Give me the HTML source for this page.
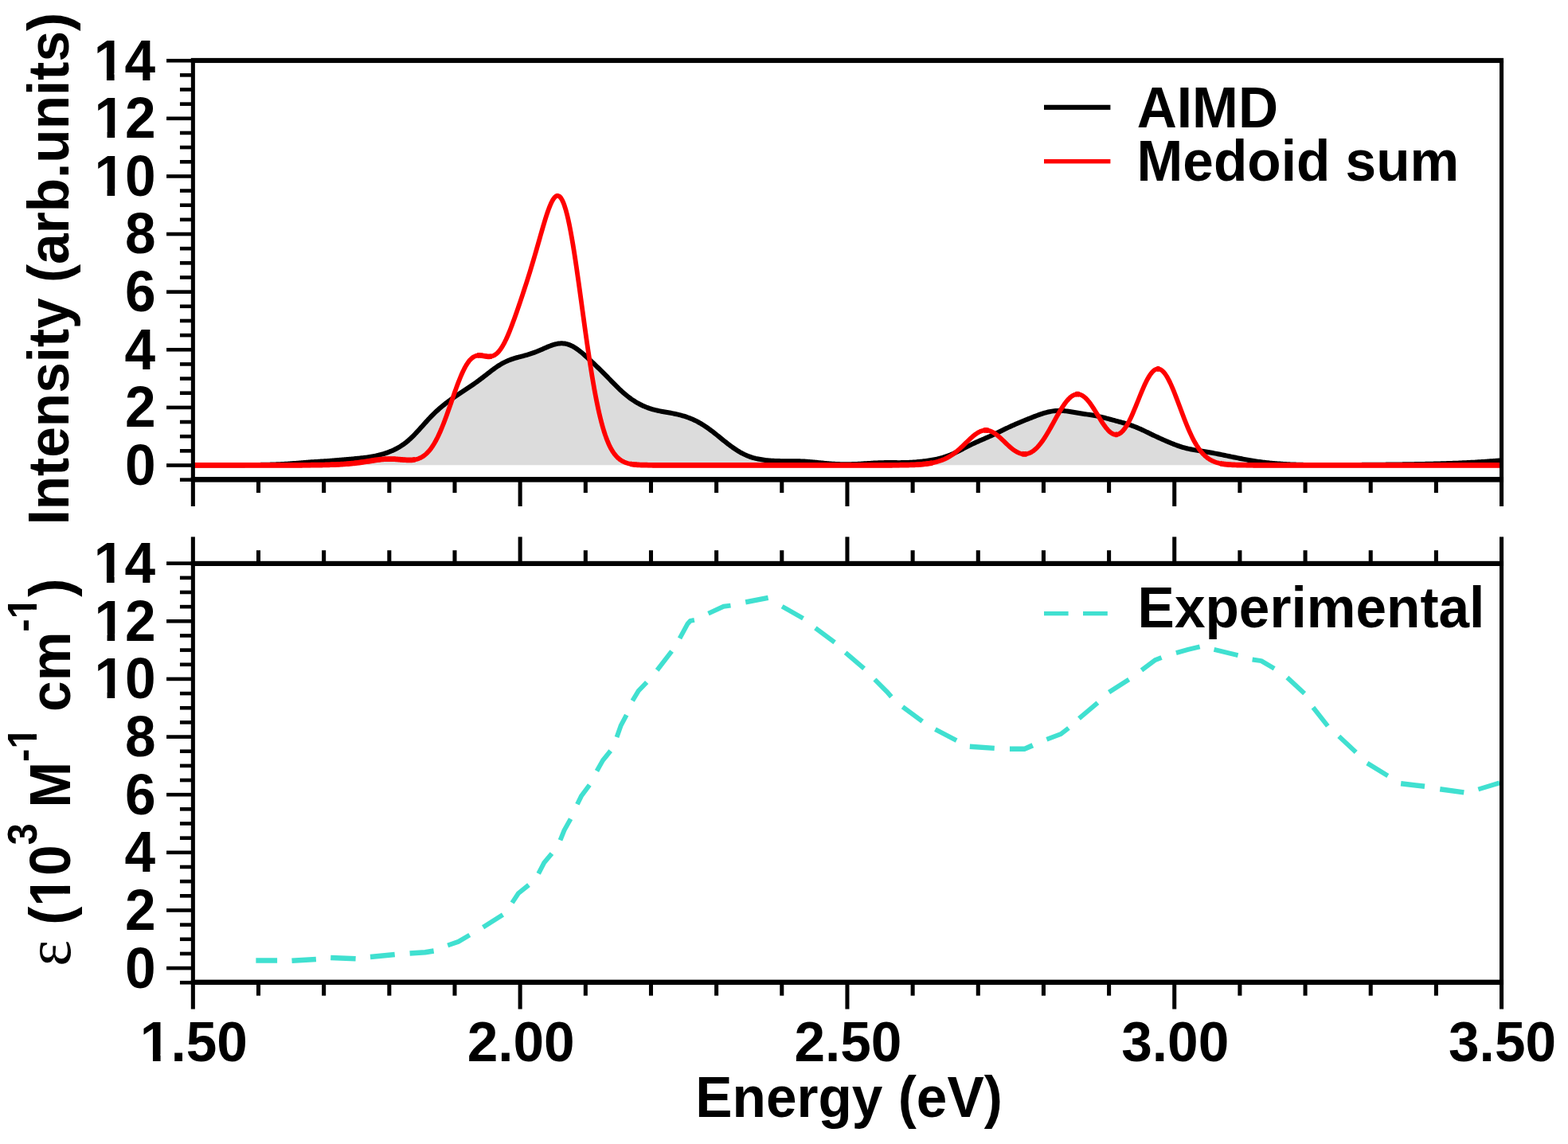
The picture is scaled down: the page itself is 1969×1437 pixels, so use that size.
<!DOCTYPE html>
<html lang="en"><head><meta charset="utf-8"><title>Absorption spectra</title>
<style>html,body{margin:0;padding:0;background:#fff;overflow:hidden}svg{display:block}text{white-space:pre}</style></head>
<body>
<svg xmlns="http://www.w3.org/2000/svg" width="1969" height="1437" viewBox="0 0 1969 1437" font-family='"Liberation Sans", sans-serif' font-weight="bold" fill="#000">
<rect width="1969" height="1437" fill="#fff"/>
<defs><clipPath id="ct"><rect x="242.35" y="76.2" width="1643.2" height="526.45"/></clipPath><clipPath id="cb"><rect x="242.35" y="707.65" width="1643.2" height="526.61"/></clipPath></defs>
<g clip-path="url(#ct)" fill="none" stroke-linejoin="round">
<path d="M242.3,584.30L243.8,584.30L245.3,584.30L246.8,584.30L248.3,584.30L249.8,584.30L251.3,584.30L252.8,584.30L254.3,584.30L255.8,584.30L257.4,584.30L258.9,584.30L260.4,584.30L261.9,584.30L263.4,584.30L264.9,584.30L266.4,584.29L267.9,584.29L269.4,584.29L270.9,584.29L272.4,584.29L273.9,584.29L275.4,584.29L276.9,584.28L278.4,584.28L279.9,584.28L281.4,584.27L282.9,584.27L284.4,584.27L285.9,584.26L287.4,584.26L288.9,584.25L290.4,584.25L291.9,584.24L293.4,584.23L294.9,584.22L296.4,584.21L297.9,584.20L299.4,584.19L300.9,584.18L302.4,584.17L303.9,584.16L305.4,584.15L306.9,584.13L308.4,584.12L309.9,584.11L311.4,584.09L312.9,584.07L314.4,584.06L315.9,584.04L317.4,584.02L318.9,584.00L320.4,583.98L321.9,583.96L323.4,583.94L324.9,583.92L326.4,583.90L327.9,583.87L329.4,583.85L330.9,583.82L332.4,583.79L333.9,583.76L335.4,583.73L336.9,583.69L338.4,583.65L339.9,583.61L341.4,583.57L342.9,583.52L344.4,583.47L345.9,583.42L347.4,583.36L348.9,583.30L350.4,583.23L351.9,583.16L353.4,583.09L354.9,583.01L356.4,582.92L357.9,582.84L359.4,582.74L360.9,582.65L362.4,582.54L363.9,582.44L365.4,582.33L366.9,582.22L368.4,582.10L369.9,581.99L371.4,581.87L372.9,581.75L374.4,581.63L375.9,581.51L377.4,581.39L378.9,581.27L380.4,581.15L381.9,581.03L383.4,580.91L384.9,580.80L386.4,580.69L387.9,580.58L389.4,580.47L390.9,580.36L392.4,580.26L393.9,580.16L395.4,580.06L396.9,579.97L398.4,579.87L399.9,579.78L401.4,579.69L402.9,579.59L404.4,579.50L405.9,579.41L407.4,579.31L408.9,579.21L410.4,579.12L411.9,579.02L413.4,578.91L414.9,578.81L416.4,578.70L417.9,578.58L419.4,578.47L420.9,578.35L422.4,578.23L423.9,578.10L425.4,577.98L426.9,577.85L428.4,577.72L429.9,577.58L431.4,577.45L432.9,577.32L434.4,577.18L435.9,577.05L437.4,576.91L438.9,576.77L440.4,576.64L441.9,576.50L443.4,576.37L444.9,576.23L446.4,576.09L447.9,575.95L449.4,575.81L450.9,575.66L452.4,575.51L453.9,575.35L455.4,575.19L456.9,575.02L458.4,574.83L459.9,574.64L461.4,574.44L462.9,574.22L464.4,573.99L465.9,573.74L467.4,573.48L468.9,573.20L470.4,572.90L471.9,572.59L473.4,572.25L474.9,571.90L476.4,571.53L477.9,571.13L479.4,570.72L480.9,570.28L482.4,569.82L483.9,569.34L485.4,568.84L486.9,568.31L488.4,567.75L489.9,567.17L491.4,566.56L492.9,565.91L494.4,565.24L495.9,564.52L497.4,563.77L498.9,562.98L500.4,562.14L501.9,561.26L503.4,560.32L504.9,559.34L506.4,558.31L507.9,557.22L509.4,556.07L510.9,554.87L512.4,553.62L513.9,552.31L515.4,550.94L516.9,549.53L518.4,548.07L519.9,546.56L521.4,545.01L522.9,543.43L524.4,541.81L525.9,540.17L527.4,538.51L528.9,536.83L530.4,535.15L531.9,533.47L533.4,531.79L534.9,530.13L536.4,528.47L537.9,526.84L539.4,525.24L540.9,523.66L542.4,522.11L543.9,520.60L545.4,519.12L546.9,517.68L548.4,516.28L549.9,514.91L551.4,513.57L552.9,512.27L554.4,511.00L555.9,509.76L557.4,508.55L558.9,507.37L560.4,506.21L561.9,505.07L563.4,503.95L564.9,502.85L566.4,501.77L567.9,500.70L569.4,499.64L570.9,498.60L572.4,497.56L573.9,496.54L575.4,495.52L576.9,494.52L578.4,493.52L579.9,492.52L581.4,491.53L582.9,490.53L584.4,489.54L585.9,488.55L587.4,487.55L588.9,486.55L590.4,485.54L591.9,484.52L593.4,483.49L594.9,482.45L596.4,481.40L597.9,480.33L599.4,479.24L600.9,478.14L602.4,477.03L603.9,475.90L605.4,474.75L606.9,473.60L608.4,472.44L609.9,471.27L611.4,470.10L612.9,468.93L614.4,467.76L615.9,466.61L617.4,465.47L618.9,464.34L620.4,463.24L621.9,462.16L623.4,461.11L624.9,460.10L626.4,459.12L627.9,458.18L629.4,457.28L630.9,456.42L632.4,455.60L633.9,454.83L635.4,454.11L636.9,453.42L638.4,452.78L639.9,452.18L641.4,451.61L642.9,451.08L644.4,450.59L645.9,450.12L647.4,449.67L648.9,449.25L650.4,448.84L651.9,448.44L653.4,448.05L654.9,447.67L656.4,447.28L657.9,446.89L659.4,446.48L660.9,446.07L662.4,445.63L663.9,445.18L665.4,444.71L666.9,444.22L668.4,443.71L669.9,443.17L671.4,442.61L672.9,442.03L674.4,441.43L675.9,440.81L677.4,440.18L678.9,439.53L680.4,438.88L681.9,438.22L683.4,437.55L684.9,436.90L686.4,436.25L687.9,435.62L689.4,435.01L690.9,434.43L692.4,433.88L693.9,433.37L695.4,432.90L696.9,432.48L698.4,432.12L699.9,431.82L701.4,431.59L702.9,431.42L704.4,431.34L705.9,431.34L707.4,431.41L708.9,431.58L710.4,431.83L711.9,432.18L713.4,432.61L714.9,433.13L716.4,433.74L717.9,434.43L719.4,435.20L720.9,436.06L722.4,436.98L723.9,437.98L725.4,439.03L726.9,440.15L728.4,441.31L729.9,442.52L731.4,443.77L732.9,445.06L734.4,446.37L735.9,447.70L737.4,449.06L738.9,450.43L740.4,451.81L741.9,453.20L743.4,454.61L744.9,456.02L746.4,457.44L747.9,458.87L749.4,460.30L750.9,461.75L752.4,463.21L753.9,464.67L755.4,466.15L756.9,467.64L758.4,469.14L759.9,470.65L761.4,472.17L762.9,473.70L764.4,475.24L765.9,476.78L767.4,478.32L768.9,479.86L770.4,481.39L771.9,482.91L773.4,484.42L774.9,485.91L776.4,487.38L777.9,488.83L779.4,490.24L780.9,491.63L782.4,492.98L783.9,494.29L785.4,495.57L786.9,496.81L788.4,498.00L789.9,499.16L791.4,500.27L792.9,501.35L794.4,502.38L795.9,503.37L797.4,504.33L798.9,505.24L800.4,506.12L801.9,506.95L803.4,507.76L804.9,508.52L806.4,509.25L807.9,509.94L809.4,510.60L810.9,511.23L812.4,511.82L813.9,512.38L815.4,512.91L816.9,513.40L818.4,513.86L819.9,514.30L821.4,514.71L822.9,515.09L824.4,515.45L825.9,515.79L827.4,516.10L828.9,516.40L830.4,516.69L831.9,516.97L833.4,517.24L834.9,517.50L836.4,517.76L837.9,518.02L839.4,518.28L840.9,518.54L842.4,518.81L843.9,519.10L845.4,519.39L846.9,519.69L848.4,520.01L849.9,520.34L851.4,520.69L852.9,521.06L854.4,521.44L855.9,521.85L857.4,522.27L858.9,522.72L860.4,523.19L861.9,523.69L863.4,524.21L864.9,524.76L866.4,525.33L867.9,525.94L869.4,526.57L870.9,527.24L872.4,527.93L873.9,528.66L875.4,529.43L876.9,530.23L878.4,531.06L879.9,531.92L881.4,532.82L882.9,533.75L884.4,534.71L885.9,535.71L887.4,536.73L888.9,537.78L890.4,538.86L891.9,539.97L893.4,541.09L894.9,542.24L896.4,543.40L897.9,544.58L899.4,545.78L900.9,546.98L902.4,548.19L903.9,549.41L905.4,550.62L906.9,551.84L908.4,553.05L909.9,554.25L911.4,555.45L912.9,556.63L914.4,557.80L915.9,558.94L917.4,560.07L918.9,561.17L920.4,562.25L921.9,563.30L923.4,564.31L924.9,565.29L926.4,566.24L927.9,567.15L929.4,568.03L930.9,568.86L932.4,569.66L933.9,570.41L935.4,571.13L936.9,571.80L938.4,572.43L939.9,573.03L941.4,573.58L942.9,574.10L944.4,574.58L945.9,575.03L947.4,575.44L948.9,575.83L950.4,576.18L951.9,576.50L953.4,576.80L954.9,577.07L956.4,577.32L957.9,577.55L959.4,577.75L960.9,577.94L962.4,578.11L963.9,578.27L965.4,578.41L966.9,578.53L968.4,578.64L969.9,578.74L971.4,578.83L972.9,578.91L974.4,578.97L975.9,579.03L977.4,579.07L978.9,579.11L980.4,579.14L981.9,579.16L983.4,579.18L984.9,579.19L986.4,579.20L987.9,579.21L989.4,579.21L990.9,579.21L992.4,579.21L993.9,579.22L995.4,579.22L996.9,579.23L998.4,579.25L999.9,579.27L1001.4,579.29L1002.9,579.33L1004.4,579.37L1005.9,579.42L1007.4,579.48L1008.9,579.55L1010.4,579.62L1011.9,579.71L1013.4,579.81L1014.9,579.91L1016.4,580.03L1017.9,580.15L1019.4,580.28L1020.9,580.41L1022.4,580.55L1023.9,580.69L1025.3,580.84L1026.8,580.99L1028.3,581.14L1029.8,581.29L1031.3,581.44L1032.8,581.59L1034.3,581.74L1035.8,581.88L1037.3,582.02L1038.8,582.15L1040.3,582.28L1041.8,582.40L1043.3,582.51L1044.8,582.62L1046.3,582.72L1047.8,582.81L1049.3,582.89L1050.8,582.97L1052.3,583.03L1053.8,583.09L1055.3,583.14L1056.8,583.18L1058.3,583.20L1059.8,583.22L1061.3,583.24L1062.8,583.24L1064.3,583.23L1065.8,583.22L1067.3,583.19L1068.8,583.16L1070.3,583.12L1071.8,583.07L1073.3,583.02L1074.8,582.95L1076.3,582.88L1077.8,582.81L1079.3,582.73L1080.8,582.64L1082.3,582.55L1083.8,582.46L1085.3,582.36L1086.8,582.26L1088.3,582.17L1089.8,582.07L1091.3,581.97L1092.8,581.87L1094.3,581.78L1095.8,581.69L1097.3,581.60L1098.8,581.52L1100.3,581.45L1101.8,581.38L1103.3,581.32L1104.8,581.26L1106.3,581.21L1107.8,581.17L1109.3,581.14L1110.8,581.11L1112.3,581.09L1113.8,581.08L1115.3,581.08L1116.8,581.07L1118.3,581.08L1119.8,581.08L1121.3,581.09L1122.8,581.10L1124.3,581.11L1125.8,581.12L1127.3,581.13L1128.8,581.13L1130.3,581.13L1131.8,581.12L1133.3,581.11L1134.8,581.09L1136.3,581.06L1137.8,581.03L1139.3,580.98L1140.8,580.92L1142.3,580.86L1143.8,580.78L1145.3,580.70L1146.8,580.60L1148.3,580.49L1149.8,580.38L1151.3,580.25L1152.8,580.11L1154.3,579.97L1155.8,579.81L1157.3,579.65L1158.8,579.48L1160.3,579.30L1161.8,579.11L1163.3,578.91L1164.8,578.70L1166.3,578.48L1167.8,578.25L1169.3,578.01L1170.8,577.75L1172.3,577.49L1173.8,577.20L1175.3,576.90L1176.8,576.58L1178.3,576.23L1179.8,575.87L1181.3,575.48L1182.8,575.07L1184.3,574.63L1185.8,574.17L1187.3,573.68L1188.8,573.16L1190.3,572.61L1191.8,572.03L1193.3,571.42L1194.8,570.79L1196.3,570.13L1197.8,569.45L1199.3,568.75L1200.8,568.03L1202.3,567.29L1203.8,566.53L1205.3,565.77L1206.8,565.00L1208.3,564.22L1209.8,563.44L1211.3,562.66L1212.8,561.88L1214.3,561.12L1215.8,560.35L1217.3,559.60L1218.8,558.86L1220.3,558.14L1221.8,557.42L1223.3,556.72L1224.8,556.03L1226.3,555.35L1227.8,554.68L1229.3,554.02L1230.8,553.36L1232.3,552.71L1233.8,552.07L1235.3,551.42L1236.8,550.77L1238.3,550.12L1239.8,549.47L1241.3,548.80L1242.8,548.13L1244.3,547.45L1245.8,546.77L1247.3,546.07L1248.8,545.36L1250.3,544.65L1251.8,543.93L1253.3,543.20L1254.8,542.47L1256.3,541.73L1257.8,541.00L1259.3,540.26L1260.8,539.53L1262.3,538.80L1263.8,538.07L1265.3,537.36L1266.8,536.65L1268.3,535.95L1269.8,535.25L1271.3,534.57L1272.8,533.90L1274.3,533.24L1275.8,532.58L1277.3,531.94L1278.8,531.30L1280.3,530.67L1281.8,530.04L1283.3,529.43L1284.8,528.81L1286.3,528.20L1287.8,527.59L1289.3,526.98L1290.8,526.38L1292.3,525.78L1293.8,525.18L1295.3,524.59L1296.8,524.00L1298.3,523.41L1299.8,522.84L1301.3,522.27L1302.8,521.71L1304.3,521.16L1305.8,520.63L1307.3,520.12L1308.8,519.62L1310.3,519.15L1311.8,518.70L1313.3,518.28L1314.8,517.88L1316.3,517.52L1317.8,517.18L1319.3,516.89L1320.8,516.62L1322.3,516.40L1323.8,516.21L1325.3,516.07L1326.8,515.96L1328.3,515.89L1329.8,515.86L1331.3,515.86L1332.8,515.90L1334.3,515.98L1335.8,516.09L1337.3,516.22L1338.8,516.38L1340.3,516.57L1341.8,516.77L1343.3,516.99L1344.8,517.23L1346.3,517.47L1347.8,517.72L1349.3,517.98L1350.8,518.23L1352.3,518.49L1353.8,518.74L1355.3,518.99L1356.8,519.23L1358.3,519.47L1359.8,519.70L1361.3,519.93L1362.8,520.16L1364.3,520.39L1365.8,520.61L1367.3,520.84L1368.8,521.08L1370.3,521.32L1371.8,521.57L1373.3,521.82L1374.8,522.09L1376.3,522.38L1377.8,522.68L1379.3,522.99L1380.8,523.31L1382.3,523.65L1383.8,524.01L1385.3,524.37L1386.8,524.75L1388.3,525.14L1389.8,525.53L1391.3,525.93L1392.8,526.33L1394.3,526.74L1395.8,527.15L1397.3,527.56L1398.8,527.96L1400.3,528.37L1401.8,528.78L1403.3,529.18L1404.8,529.58L1406.3,529.99L1407.8,530.40L1409.3,530.82L1410.8,531.24L1412.3,531.67L1413.8,532.11L1415.3,532.56L1416.8,533.04L1418.3,533.52L1419.8,534.03L1421.3,534.56L1422.8,535.11L1424.3,535.68L1425.8,536.27L1427.3,536.88L1428.8,537.51L1430.3,538.16L1431.8,538.82L1433.3,539.50L1434.8,540.20L1436.3,540.90L1437.8,541.62L1439.3,542.34L1440.8,543.06L1442.3,543.78L1443.8,544.51L1445.3,545.24L1446.8,545.96L1448.3,546.68L1449.8,547.39L1451.3,548.10L1452.8,548.80L1454.3,549.49L1455.8,550.18L1457.3,550.87L1458.8,551.54L1460.3,552.21L1461.8,552.88L1463.3,553.53L1464.8,554.18L1466.3,554.82L1467.8,555.46L1469.3,556.08L1470.8,556.70L1472.3,557.30L1473.8,557.90L1475.3,558.47L1476.8,559.04L1478.3,559.58L1479.8,560.11L1481.3,560.62L1482.8,561.11L1484.3,561.58L1485.8,562.03L1487.3,562.45L1488.8,562.86L1490.3,563.24L1491.8,563.60L1493.3,563.94L1494.8,564.26L1496.3,564.56L1497.8,564.85L1499.3,565.12L1500.8,565.38L1502.3,565.63L1503.8,565.88L1505.3,566.11L1506.8,566.35L1508.3,566.58L1509.8,566.81L1511.3,567.04L1512.8,567.27L1514.3,567.51L1515.8,567.75L1517.3,568.00L1518.8,568.25L1520.3,568.51L1521.8,568.78L1523.3,569.05L1524.8,569.33L1526.3,569.62L1527.8,569.91L1529.3,570.20L1530.8,570.50L1532.3,570.80L1533.8,571.11L1535.3,571.42L1536.8,571.72L1538.3,572.03L1539.8,572.34L1541.3,572.65L1542.8,572.96L1544.3,573.27L1545.8,573.58L1547.3,573.89L1548.8,574.20L1550.3,574.50L1551.8,574.80L1553.3,575.11L1554.8,575.40L1556.3,575.70L1557.8,576.00L1559.3,576.29L1560.8,576.58L1562.3,576.86L1563.8,577.14L1565.3,577.42L1566.8,577.69L1568.3,577.96L1569.8,578.22L1571.3,578.48L1572.8,578.73L1574.3,578.97L1575.8,579.21L1577.3,579.44L1578.8,579.66L1580.3,579.88L1581.8,580.08L1583.3,580.28L1584.8,580.48L1586.3,580.66L1587.8,580.84L1589.3,581.01L1590.8,581.18L1592.3,581.34L1593.8,581.49L1595.3,581.63L1596.8,581.77L1598.3,581.91L1599.8,582.04L1601.3,582.16L1602.8,582.28L1604.3,582.39L1605.8,582.50L1607.3,582.61L1608.8,582.71L1610.3,582.81L1611.8,582.90L1613.3,582.99L1614.8,583.08L1616.3,583.16L1617.8,583.23L1619.3,583.31L1620.8,583.38L1622.3,583.44L1623.8,583.50L1625.3,583.56L1626.8,583.61L1628.3,583.66L1629.8,583.71L1631.3,583.75L1632.8,583.79L1634.3,583.83L1635.8,583.86L1637.3,583.89L1638.8,583.92L1640.3,583.94L1641.8,583.96L1643.3,583.98L1644.8,584.00L1646.3,584.01L1647.8,584.03L1649.3,584.04L1650.8,584.05L1652.3,584.05L1653.8,584.06L1655.3,584.06L1656.8,584.07L1658.3,584.07L1659.8,584.07L1661.3,584.07L1662.8,584.07L1664.3,584.07L1665.8,584.07L1667.3,584.06L1668.8,584.06L1670.3,584.06L1671.8,584.05L1673.3,584.05L1674.8,584.04L1676.3,584.04L1677.8,584.03L1679.3,584.03L1680.8,584.02L1682.3,584.02L1683.8,584.01L1685.3,584.00L1686.8,584.00L1688.3,583.99L1689.8,583.98L1691.3,583.98L1692.8,583.97L1694.3,583.96L1695.8,583.95L1697.3,583.95L1698.8,583.94L1700.3,583.93L1701.8,583.92L1703.3,583.91L1704.8,583.90L1706.3,583.89L1707.8,583.89L1709.3,583.88L1710.8,583.87L1712.3,583.86L1713.8,583.85L1715.3,583.84L1716.8,583.82L1718.3,583.81L1719.8,583.80L1721.3,583.79L1722.8,583.78L1724.3,583.77L1725.8,583.76L1727.3,583.74L1728.8,583.73L1730.3,583.72L1731.8,583.70L1733.3,583.69L1734.8,583.68L1736.3,583.66L1737.8,583.65L1739.3,583.63L1740.8,583.62L1742.3,583.60L1743.8,583.58L1745.3,583.57L1746.8,583.55L1748.3,583.53L1749.8,583.52L1751.3,583.50L1752.8,583.48L1754.3,583.46L1755.8,583.44L1757.3,583.42L1758.8,583.40L1760.3,583.38L1761.8,583.36L1763.3,583.34L1764.8,583.32L1766.3,583.29L1767.8,583.27L1769.3,583.25L1770.8,583.22L1772.3,583.20L1773.8,583.17L1775.3,583.15L1776.8,583.12L1778.3,583.09L1779.8,583.07L1781.3,583.04L1782.8,583.01L1784.3,582.98L1785.8,582.95L1787.3,582.92L1788.8,582.89L1790.3,582.85L1791.8,582.82L1793.3,582.79L1794.8,582.75L1796.3,582.72L1797.8,582.68L1799.3,582.64L1800.8,582.60L1802.3,582.56L1803.8,582.52L1805.3,582.48L1806.8,582.44L1808.3,582.40L1809.8,582.36L1811.3,582.31L1812.8,582.26L1814.3,582.22L1815.8,582.17L1817.3,582.12L1818.8,582.07L1820.3,582.02L1821.8,581.97L1823.3,581.91L1824.8,581.86L1826.3,581.80L1827.8,581.75L1829.3,581.69L1830.8,581.63L1832.3,581.57L1833.8,581.50L1835.3,581.44L1836.8,581.37L1838.3,581.31L1839.8,581.24L1841.3,581.17L1842.8,581.09L1844.3,581.02L1845.8,580.94L1847.3,580.87L1848.8,580.79L1850.3,580.71L1851.8,580.63L1853.3,580.54L1854.8,580.45L1856.3,580.37L1857.8,580.28L1859.3,580.18L1860.8,580.09L1862.3,579.99L1863.8,579.89L1865.3,579.79L1866.8,579.69L1868.3,579.58L1869.8,579.47L1871.3,579.36L1872.8,579.25L1874.3,579.13L1875.8,579.01L1877.3,578.89L1878.8,578.77L1880.3,578.64L1881.8,578.51L1883.3,578.38L1884.8,578.24L1884.85,584.3L242.35,584.3Z" fill="#dcdcdc"/>
<path d="M242.3,584.30L243.8,584.30L245.3,584.30L246.8,584.30L248.3,584.30L249.8,584.30L251.3,584.30L252.8,584.30L254.3,584.30L255.8,584.30L257.4,584.30L258.9,584.30L260.4,584.30L261.9,584.30L263.4,584.30L264.9,584.30L266.4,584.29L267.9,584.29L269.4,584.29L270.9,584.29L272.4,584.29L273.9,584.29L275.4,584.29L276.9,584.28L278.4,584.28L279.9,584.28L281.4,584.27L282.9,584.27L284.4,584.27L285.9,584.26L287.4,584.26L288.9,584.25L290.4,584.25L291.9,584.24L293.4,584.23L294.9,584.22L296.4,584.21L297.9,584.20L299.4,584.19L300.9,584.18L302.4,584.17L303.9,584.16L305.4,584.15L306.9,584.13L308.4,584.12L309.9,584.11L311.4,584.09L312.9,584.07L314.4,584.06L315.9,584.04L317.4,584.02L318.9,584.00L320.4,583.98L321.9,583.96L323.4,583.94L324.9,583.92L326.4,583.90L327.9,583.87L329.4,583.85L330.9,583.82L332.4,583.79L333.9,583.76L335.4,583.73L336.9,583.69L338.4,583.65L339.9,583.61L341.4,583.57L342.9,583.52L344.4,583.47L345.9,583.42L347.4,583.36L348.9,583.30L350.4,583.23L351.9,583.16L353.4,583.09L354.9,583.01L356.4,582.92L357.9,582.84L359.4,582.74L360.9,582.65L362.4,582.54L363.9,582.44L365.4,582.33L366.9,582.22L368.4,582.10L369.9,581.99L371.4,581.87L372.9,581.75L374.4,581.63L375.9,581.51L377.4,581.39L378.9,581.27L380.4,581.15L381.9,581.03L383.4,580.91L384.9,580.80L386.4,580.69L387.9,580.58L389.4,580.47L390.9,580.36L392.4,580.26L393.9,580.16L395.4,580.06L396.9,579.97L398.4,579.87L399.9,579.78L401.4,579.69L402.9,579.59L404.4,579.50L405.9,579.41L407.4,579.31L408.9,579.21L410.4,579.12L411.9,579.02L413.4,578.91L414.9,578.81L416.4,578.70L417.9,578.58L419.4,578.47L420.9,578.35L422.4,578.23L423.9,578.10L425.4,577.98L426.9,577.85L428.4,577.72L429.9,577.58L431.4,577.45L432.9,577.32L434.4,577.18L435.9,577.05L437.4,576.91L438.9,576.77L440.4,576.64L441.9,576.50L443.4,576.37L444.9,576.23L446.4,576.09L447.9,575.95L449.4,575.81L450.9,575.66L452.4,575.51L453.9,575.35L455.4,575.19L456.9,575.02L458.4,574.83L459.9,574.64L461.4,574.44L462.9,574.22L464.4,573.99L465.9,573.74L467.4,573.48L468.9,573.20L470.4,572.90L471.9,572.59L473.4,572.25L474.9,571.90L476.4,571.53L477.9,571.13L479.4,570.72L480.9,570.28L482.4,569.82L483.9,569.34L485.4,568.84L486.9,568.31L488.4,567.75L489.9,567.17L491.4,566.56L492.9,565.91L494.4,565.24L495.9,564.52L497.4,563.77L498.9,562.98L500.4,562.14L501.9,561.26L503.4,560.32L504.9,559.34L506.4,558.31L507.9,557.22L509.4,556.07L510.9,554.87L512.4,553.62L513.9,552.31L515.4,550.94L516.9,549.53L518.4,548.07L519.9,546.56L521.4,545.01L522.9,543.43L524.4,541.81L525.9,540.17L527.4,538.51L528.9,536.83L530.4,535.15L531.9,533.47L533.4,531.79L534.9,530.13L536.4,528.47L537.9,526.84L539.4,525.24L540.9,523.66L542.4,522.11L543.9,520.60L545.4,519.12L546.9,517.68L548.4,516.28L549.9,514.91L551.4,513.57L552.9,512.27L554.4,511.00L555.9,509.76L557.4,508.55L558.9,507.37L560.4,506.21L561.9,505.07L563.4,503.95L564.9,502.85L566.4,501.77L567.9,500.70L569.4,499.64L570.9,498.60L572.4,497.56L573.9,496.54L575.4,495.52L576.9,494.52L578.4,493.52L579.9,492.52L581.4,491.53L582.9,490.53L584.4,489.54L585.9,488.55L587.4,487.55L588.9,486.55L590.4,485.54L591.9,484.52L593.4,483.49L594.9,482.45L596.4,481.40L597.9,480.33L599.4,479.24L600.9,478.14L602.4,477.03L603.9,475.90L605.4,474.75L606.9,473.60L608.4,472.44L609.9,471.27L611.4,470.10L612.9,468.93L614.4,467.76L615.9,466.61L617.4,465.47L618.9,464.34L620.4,463.24L621.9,462.16L623.4,461.11L624.9,460.10L626.4,459.12L627.9,458.18L629.4,457.28L630.9,456.42L632.4,455.60L633.9,454.83L635.4,454.11L636.9,453.42L638.4,452.78L639.9,452.18L641.4,451.61L642.9,451.08L644.4,450.59L645.9,450.12L647.4,449.67L648.9,449.25L650.4,448.84L651.9,448.44L653.4,448.05L654.9,447.67L656.4,447.28L657.9,446.89L659.4,446.48L660.9,446.07L662.4,445.63L663.9,445.18L665.4,444.71L666.9,444.22L668.4,443.71L669.9,443.17L671.4,442.61L672.9,442.03L674.4,441.43L675.9,440.81L677.4,440.18L678.9,439.53L680.4,438.88L681.9,438.22L683.4,437.55L684.9,436.90L686.4,436.25L687.9,435.62L689.4,435.01L690.9,434.43L692.4,433.88L693.9,433.37L695.4,432.90L696.9,432.48L698.4,432.12L699.9,431.82L701.4,431.59L702.9,431.42L704.4,431.34L705.9,431.34L707.4,431.41L708.9,431.58L710.4,431.83L711.9,432.18L713.4,432.61L714.9,433.13L716.4,433.74L717.9,434.43L719.4,435.20L720.9,436.06L722.4,436.98L723.9,437.98L725.4,439.03L726.9,440.15L728.4,441.31L729.9,442.52L731.4,443.77L732.9,445.06L734.4,446.37L735.9,447.70L737.4,449.06L738.9,450.43L740.4,451.81L741.9,453.20L743.4,454.61L744.9,456.02L746.4,457.44L747.9,458.87L749.4,460.30L750.9,461.75L752.4,463.21L753.9,464.67L755.4,466.15L756.9,467.64L758.4,469.14L759.9,470.65L761.4,472.17L762.9,473.70L764.4,475.24L765.9,476.78L767.4,478.32L768.9,479.86L770.4,481.39L771.9,482.91L773.4,484.42L774.9,485.91L776.4,487.38L777.9,488.83L779.4,490.24L780.9,491.63L782.4,492.98L783.9,494.29L785.4,495.57L786.9,496.81L788.4,498.00L789.9,499.16L791.4,500.27L792.9,501.35L794.4,502.38L795.9,503.37L797.4,504.33L798.9,505.24L800.4,506.12L801.9,506.95L803.4,507.76L804.9,508.52L806.4,509.25L807.9,509.94L809.4,510.60L810.9,511.23L812.4,511.82L813.9,512.38L815.4,512.91L816.9,513.40L818.4,513.86L819.9,514.30L821.4,514.71L822.9,515.09L824.4,515.45L825.9,515.79L827.4,516.10L828.9,516.40L830.4,516.69L831.9,516.97L833.4,517.24L834.9,517.50L836.4,517.76L837.9,518.02L839.4,518.28L840.9,518.54L842.4,518.81L843.9,519.10L845.4,519.39L846.9,519.69L848.4,520.01L849.9,520.34L851.4,520.69L852.9,521.06L854.4,521.44L855.9,521.85L857.4,522.27L858.9,522.72L860.4,523.19L861.9,523.69L863.4,524.21L864.9,524.76L866.4,525.33L867.9,525.94L869.4,526.57L870.9,527.24L872.4,527.93L873.9,528.66L875.4,529.43L876.9,530.23L878.4,531.06L879.9,531.92L881.4,532.82L882.9,533.75L884.4,534.71L885.9,535.71L887.4,536.73L888.9,537.78L890.4,538.86L891.9,539.97L893.4,541.09L894.9,542.24L896.4,543.40L897.9,544.58L899.4,545.78L900.9,546.98L902.4,548.19L903.9,549.41L905.4,550.62L906.9,551.84L908.4,553.05L909.9,554.25L911.4,555.45L912.9,556.63L914.4,557.80L915.9,558.94L917.4,560.07L918.9,561.17L920.4,562.25L921.9,563.30L923.4,564.31L924.9,565.29L926.4,566.24L927.9,567.15L929.4,568.03L930.9,568.86L932.4,569.66L933.9,570.41L935.4,571.13L936.9,571.80L938.4,572.43L939.9,573.03L941.4,573.58L942.9,574.10L944.4,574.58L945.9,575.03L947.4,575.44L948.9,575.83L950.4,576.18L951.9,576.50L953.4,576.80L954.9,577.07L956.4,577.32L957.9,577.55L959.4,577.75L960.9,577.94L962.4,578.11L963.9,578.27L965.4,578.41L966.9,578.53L968.4,578.64L969.9,578.74L971.4,578.83L972.9,578.91L974.4,578.97L975.9,579.03L977.4,579.07L978.9,579.11L980.4,579.14L981.9,579.16L983.4,579.18L984.9,579.19L986.4,579.20L987.9,579.21L989.4,579.21L990.9,579.21L992.4,579.21L993.9,579.22L995.4,579.22L996.9,579.23L998.4,579.25L999.9,579.27L1001.4,579.29L1002.9,579.33L1004.4,579.37L1005.9,579.42L1007.4,579.48L1008.9,579.55L1010.4,579.62L1011.9,579.71L1013.4,579.81L1014.9,579.91L1016.4,580.03L1017.9,580.15L1019.4,580.28L1020.9,580.41L1022.4,580.55L1023.9,580.69L1025.3,580.84L1026.8,580.99L1028.3,581.14L1029.8,581.29L1031.3,581.44L1032.8,581.59L1034.3,581.74L1035.8,581.88L1037.3,582.02L1038.8,582.15L1040.3,582.28L1041.8,582.40L1043.3,582.51L1044.8,582.62L1046.3,582.72L1047.8,582.81L1049.3,582.89L1050.8,582.97L1052.3,583.03L1053.8,583.09L1055.3,583.14L1056.8,583.18L1058.3,583.20L1059.8,583.22L1061.3,583.24L1062.8,583.24L1064.3,583.23L1065.8,583.22L1067.3,583.19L1068.8,583.16L1070.3,583.12L1071.8,583.07L1073.3,583.02L1074.8,582.95L1076.3,582.88L1077.8,582.81L1079.3,582.73L1080.8,582.64L1082.3,582.55L1083.8,582.46L1085.3,582.36L1086.8,582.26L1088.3,582.17L1089.8,582.07L1091.3,581.97L1092.8,581.87L1094.3,581.78L1095.8,581.69L1097.3,581.60L1098.8,581.52L1100.3,581.45L1101.8,581.38L1103.3,581.32L1104.8,581.26L1106.3,581.21L1107.8,581.17L1109.3,581.14L1110.8,581.11L1112.3,581.09L1113.8,581.08L1115.3,581.08L1116.8,581.07L1118.3,581.08L1119.8,581.08L1121.3,581.09L1122.8,581.10L1124.3,581.11L1125.8,581.12L1127.3,581.13L1128.8,581.13L1130.3,581.13L1131.8,581.12L1133.3,581.11L1134.8,581.09L1136.3,581.06L1137.8,581.03L1139.3,580.98L1140.8,580.92L1142.3,580.86L1143.8,580.78L1145.3,580.70L1146.8,580.60L1148.3,580.49L1149.8,580.38L1151.3,580.25L1152.8,580.11L1154.3,579.97L1155.8,579.81L1157.3,579.65L1158.8,579.48L1160.3,579.30L1161.8,579.11L1163.3,578.91L1164.8,578.70L1166.3,578.48L1167.8,578.25L1169.3,578.01L1170.8,577.75L1172.3,577.49L1173.8,577.20L1175.3,576.90L1176.8,576.58L1178.3,576.23L1179.8,575.87L1181.3,575.48L1182.8,575.07L1184.3,574.63L1185.8,574.17L1187.3,573.68L1188.8,573.16L1190.3,572.61L1191.8,572.03L1193.3,571.42L1194.8,570.79L1196.3,570.13L1197.8,569.45L1199.3,568.75L1200.8,568.03L1202.3,567.29L1203.8,566.53L1205.3,565.77L1206.8,565.00L1208.3,564.22L1209.8,563.44L1211.3,562.66L1212.8,561.88L1214.3,561.12L1215.8,560.35L1217.3,559.60L1218.8,558.86L1220.3,558.14L1221.8,557.42L1223.3,556.72L1224.8,556.03L1226.3,555.35L1227.8,554.68L1229.3,554.02L1230.8,553.36L1232.3,552.71L1233.8,552.07L1235.3,551.42L1236.8,550.77L1238.3,550.12L1239.8,549.47L1241.3,548.80L1242.8,548.13L1244.3,547.45L1245.8,546.77L1247.3,546.07L1248.8,545.36L1250.3,544.65L1251.8,543.93L1253.3,543.20L1254.8,542.47L1256.3,541.73L1257.8,541.00L1259.3,540.26L1260.8,539.53L1262.3,538.80L1263.8,538.07L1265.3,537.36L1266.8,536.65L1268.3,535.95L1269.8,535.25L1271.3,534.57L1272.8,533.90L1274.3,533.24L1275.8,532.58L1277.3,531.94L1278.8,531.30L1280.3,530.67L1281.8,530.04L1283.3,529.43L1284.8,528.81L1286.3,528.20L1287.8,527.59L1289.3,526.98L1290.8,526.38L1292.3,525.78L1293.8,525.18L1295.3,524.59L1296.8,524.00L1298.3,523.41L1299.8,522.84L1301.3,522.27L1302.8,521.71L1304.3,521.16L1305.8,520.63L1307.3,520.12L1308.8,519.62L1310.3,519.15L1311.8,518.70L1313.3,518.28L1314.8,517.88L1316.3,517.52L1317.8,517.18L1319.3,516.89L1320.8,516.62L1322.3,516.40L1323.8,516.21L1325.3,516.07L1326.8,515.96L1328.3,515.89L1329.8,515.86L1331.3,515.86L1332.8,515.90L1334.3,515.98L1335.8,516.09L1337.3,516.22L1338.8,516.38L1340.3,516.57L1341.8,516.77L1343.3,516.99L1344.8,517.23L1346.3,517.47L1347.8,517.72L1349.3,517.98L1350.8,518.23L1352.3,518.49L1353.8,518.74L1355.3,518.99L1356.8,519.23L1358.3,519.47L1359.8,519.70L1361.3,519.93L1362.8,520.16L1364.3,520.39L1365.8,520.61L1367.3,520.84L1368.8,521.08L1370.3,521.32L1371.8,521.57L1373.3,521.82L1374.8,522.09L1376.3,522.38L1377.8,522.68L1379.3,522.99L1380.8,523.31L1382.3,523.65L1383.8,524.01L1385.3,524.37L1386.8,524.75L1388.3,525.14L1389.8,525.53L1391.3,525.93L1392.8,526.33L1394.3,526.74L1395.8,527.15L1397.3,527.56L1398.8,527.96L1400.3,528.37L1401.8,528.78L1403.3,529.18L1404.8,529.58L1406.3,529.99L1407.8,530.40L1409.3,530.82L1410.8,531.24L1412.3,531.67L1413.8,532.11L1415.3,532.56L1416.8,533.04L1418.3,533.52L1419.8,534.03L1421.3,534.56L1422.8,535.11L1424.3,535.68L1425.8,536.27L1427.3,536.88L1428.8,537.51L1430.3,538.16L1431.8,538.82L1433.3,539.50L1434.8,540.20L1436.3,540.90L1437.8,541.62L1439.3,542.34L1440.8,543.06L1442.3,543.78L1443.8,544.51L1445.3,545.24L1446.8,545.96L1448.3,546.68L1449.8,547.39L1451.3,548.10L1452.8,548.80L1454.3,549.49L1455.8,550.18L1457.3,550.87L1458.8,551.54L1460.3,552.21L1461.8,552.88L1463.3,553.53L1464.8,554.18L1466.3,554.82L1467.8,555.46L1469.3,556.08L1470.8,556.70L1472.3,557.30L1473.8,557.90L1475.3,558.47L1476.8,559.04L1478.3,559.58L1479.8,560.11L1481.3,560.62L1482.8,561.11L1484.3,561.58L1485.8,562.03L1487.3,562.45L1488.8,562.86L1490.3,563.24L1491.8,563.60L1493.3,563.94L1494.8,564.26L1496.3,564.56L1497.8,564.85L1499.3,565.12L1500.8,565.38L1502.3,565.63L1503.8,565.88L1505.3,566.11L1506.8,566.35L1508.3,566.58L1509.8,566.81L1511.3,567.04L1512.8,567.27L1514.3,567.51L1515.8,567.75L1517.3,568.00L1518.8,568.25L1520.3,568.51L1521.8,568.78L1523.3,569.05L1524.8,569.33L1526.3,569.62L1527.8,569.91L1529.3,570.20L1530.8,570.50L1532.3,570.80L1533.8,571.11L1535.3,571.42L1536.8,571.72L1538.3,572.03L1539.8,572.34L1541.3,572.65L1542.8,572.96L1544.3,573.27L1545.8,573.58L1547.3,573.89L1548.8,574.20L1550.3,574.50L1551.8,574.80L1553.3,575.11L1554.8,575.40L1556.3,575.70L1557.8,576.00L1559.3,576.29L1560.8,576.58L1562.3,576.86L1563.8,577.14L1565.3,577.42L1566.8,577.69L1568.3,577.96L1569.8,578.22L1571.3,578.48L1572.8,578.73L1574.3,578.97L1575.8,579.21L1577.3,579.44L1578.8,579.66L1580.3,579.88L1581.8,580.08L1583.3,580.28L1584.8,580.48L1586.3,580.66L1587.8,580.84L1589.3,581.01L1590.8,581.18L1592.3,581.34L1593.8,581.49L1595.3,581.63L1596.8,581.77L1598.3,581.91L1599.8,582.04L1601.3,582.16L1602.8,582.28L1604.3,582.39L1605.8,582.50L1607.3,582.61L1608.8,582.71L1610.3,582.81L1611.8,582.90L1613.3,582.99L1614.8,583.08L1616.3,583.16L1617.8,583.23L1619.3,583.31L1620.8,583.38L1622.3,583.44L1623.8,583.50L1625.3,583.56L1626.8,583.61L1628.3,583.66L1629.8,583.71L1631.3,583.75L1632.8,583.79L1634.3,583.83L1635.8,583.86L1637.3,583.89L1638.8,583.92L1640.3,583.94L1641.8,583.96L1643.3,583.98L1644.8,584.00L1646.3,584.01L1647.8,584.03L1649.3,584.04L1650.8,584.05L1652.3,584.05L1653.8,584.06L1655.3,584.06L1656.8,584.07L1658.3,584.07L1659.8,584.07L1661.3,584.07L1662.8,584.07L1664.3,584.07L1665.8,584.07L1667.3,584.06L1668.8,584.06L1670.3,584.06L1671.8,584.05L1673.3,584.05L1674.8,584.04L1676.3,584.04L1677.8,584.03L1679.3,584.03L1680.8,584.02L1682.3,584.02L1683.8,584.01L1685.3,584.00L1686.8,584.00L1688.3,583.99L1689.8,583.98L1691.3,583.98L1692.8,583.97L1694.3,583.96L1695.8,583.95L1697.3,583.95L1698.8,583.94L1700.3,583.93L1701.8,583.92L1703.3,583.91L1704.8,583.90L1706.3,583.89L1707.8,583.89L1709.3,583.88L1710.8,583.87L1712.3,583.86L1713.8,583.85L1715.3,583.84L1716.8,583.82L1718.3,583.81L1719.8,583.80L1721.3,583.79L1722.8,583.78L1724.3,583.77L1725.8,583.76L1727.3,583.74L1728.8,583.73L1730.3,583.72L1731.8,583.70L1733.3,583.69L1734.8,583.68L1736.3,583.66L1737.8,583.65L1739.3,583.63L1740.8,583.62L1742.3,583.60L1743.8,583.58L1745.3,583.57L1746.8,583.55L1748.3,583.53L1749.8,583.52L1751.3,583.50L1752.8,583.48L1754.3,583.46L1755.8,583.44L1757.3,583.42L1758.8,583.40L1760.3,583.38L1761.8,583.36L1763.3,583.34L1764.8,583.32L1766.3,583.29L1767.8,583.27L1769.3,583.25L1770.8,583.22L1772.3,583.20L1773.8,583.17L1775.3,583.15L1776.8,583.12L1778.3,583.09L1779.8,583.07L1781.3,583.04L1782.8,583.01L1784.3,582.98L1785.8,582.95L1787.3,582.92L1788.8,582.89L1790.3,582.85L1791.8,582.82L1793.3,582.79L1794.8,582.75L1796.3,582.72L1797.8,582.68L1799.3,582.64L1800.8,582.60L1802.3,582.56L1803.8,582.52L1805.3,582.48L1806.8,582.44L1808.3,582.40L1809.8,582.36L1811.3,582.31L1812.8,582.26L1814.3,582.22L1815.8,582.17L1817.3,582.12L1818.8,582.07L1820.3,582.02L1821.8,581.97L1823.3,581.91L1824.8,581.86L1826.3,581.80L1827.8,581.75L1829.3,581.69L1830.8,581.63L1832.3,581.57L1833.8,581.50L1835.3,581.44L1836.8,581.37L1838.3,581.31L1839.8,581.24L1841.3,581.17L1842.8,581.09L1844.3,581.02L1845.8,580.94L1847.3,580.87L1848.8,580.79L1850.3,580.71L1851.8,580.63L1853.3,580.54L1854.8,580.45L1856.3,580.37L1857.8,580.28L1859.3,580.18L1860.8,580.09L1862.3,579.99L1863.8,579.89L1865.3,579.79L1866.8,579.69L1868.3,579.58L1869.8,579.47L1871.3,579.36L1872.8,579.25L1874.3,579.13L1875.8,579.01L1877.3,578.89L1878.8,578.77L1880.3,578.64L1881.8,578.51L1883.3,578.38L1884.8,578.24" stroke="#000" stroke-width="6.0"/>
<path d="M242.3,584.30L243.8,584.30L245.3,584.30L246.8,584.30L248.3,584.30L249.8,584.30L251.3,584.30L252.8,584.30L254.3,584.30L255.8,584.30L257.4,584.30L258.9,584.30L260.4,584.30L261.9,584.30L263.4,584.30L264.9,584.30L266.4,584.30L267.9,584.30L269.4,584.30L270.9,584.30L272.4,584.30L273.9,584.30L275.4,584.30L276.9,584.30L278.4,584.30L279.9,584.30L281.4,584.30L282.9,584.30L284.4,584.30L285.9,584.30L287.4,584.30L288.9,584.30L290.4,584.30L291.9,584.30L293.4,584.30L294.9,584.30L296.4,584.30L297.9,584.30L299.4,584.30L300.9,584.30L302.4,584.30L303.9,584.30L305.4,584.30L306.9,584.30L308.4,584.30L309.9,584.30L311.4,584.30L312.9,584.30L314.4,584.30L315.9,584.30L317.4,584.30L318.9,584.30L320.4,584.30L321.9,584.30L323.4,584.30L324.9,584.30L326.4,584.30L327.9,584.30L329.4,584.30L330.9,584.30L332.4,584.30L333.9,584.30L335.4,584.30L336.9,584.30L338.4,584.30L339.9,584.30L341.4,584.30L342.9,584.30L344.4,584.30L345.9,584.30L347.4,584.30L348.9,584.30L350.4,584.30L351.9,584.30L353.4,584.30L354.9,584.30L356.4,584.30L357.9,584.30L359.4,584.30L360.9,584.30L362.4,584.30L363.9,584.30L365.4,584.30L366.9,584.29L368.4,584.29L369.9,584.29L371.4,584.29L372.9,584.29L374.4,584.29L375.9,584.28L377.4,584.28L378.9,584.28L380.4,584.27L381.9,584.27L383.4,584.26L384.9,584.26L386.4,584.25L387.9,584.24L389.4,584.23L390.9,584.22L392.4,584.21L393.9,584.19L395.4,584.18L396.9,584.16L398.4,584.14L399.9,584.12L401.4,584.10L402.9,584.07L404.4,584.04L405.9,584.01L407.4,583.98L408.9,583.95L410.4,583.91L411.9,583.87L413.4,583.82L414.9,583.77L416.4,583.72L417.9,583.67L419.4,583.61L420.9,583.55L422.4,583.48L423.9,583.41L425.4,583.33L426.9,583.25L428.4,583.17L429.9,583.08L431.4,582.98L432.9,582.88L434.4,582.77L435.9,582.66L437.4,582.54L438.9,582.41L440.4,582.27L441.9,582.13L443.4,581.98L444.9,581.82L446.4,581.65L447.9,581.47L449.4,581.29L450.9,581.10L452.4,580.90L453.9,580.69L455.4,580.47L456.9,580.25L458.4,580.02L459.9,579.79L461.4,579.56L462.9,579.32L464.4,579.08L465.9,578.84L467.4,578.60L468.9,578.37L470.4,578.14L471.9,577.93L473.4,577.72L474.9,577.52L476.4,577.33L477.9,577.17L479.4,577.01L480.9,576.88L482.4,576.77L483.9,576.67L485.4,576.60L486.9,576.56L488.4,576.53L489.9,576.53L491.4,576.55L492.9,576.59L494.4,576.65L495.9,576.72L497.4,576.82L498.9,576.92L500.4,577.04L501.9,577.17L503.4,577.30L504.9,577.42L506.4,577.55L507.9,577.66L509.4,577.75L510.9,577.83L512.4,577.87L513.9,577.89L515.4,577.86L516.9,577.79L518.4,577.66L519.9,577.47L521.4,577.21L522.9,576.87L524.4,576.44L525.9,575.92L527.4,575.30L528.9,574.57L530.4,573.71L531.9,572.73L533.4,571.61L534.9,570.35L536.4,568.94L537.9,567.36L539.4,565.62L540.9,563.71L542.4,561.63L543.9,559.36L545.4,556.91L546.9,554.28L548.4,551.47L549.9,548.47L551.4,545.29L552.9,541.95L554.4,538.44L555.9,534.77L557.4,530.96L558.9,527.02L560.4,522.96L561.9,518.81L563.4,514.58L564.9,510.30L566.4,505.98L567.9,501.66L569.4,497.35L570.9,493.08L572.4,488.87L573.9,484.77L575.4,480.78L576.9,476.93L578.4,473.25L579.9,469.76L581.4,466.48L582.9,463.43L584.4,460.62L585.9,458.06L587.4,455.76L588.9,453.73L590.4,451.97L591.9,450.47L593.4,449.23L594.9,448.24L596.4,447.48L597.9,446.95L599.4,446.61L600.9,446.44L602.4,446.42L603.9,446.52L605.4,446.70L606.9,446.94L608.4,447.21L609.9,447.46L611.4,447.68L612.9,447.82L614.4,447.85L615.9,447.75L617.4,447.49L618.9,447.04L620.4,446.39L621.9,445.51L623.4,444.40L624.9,443.04L626.4,441.42L627.9,439.55L629.4,437.42L630.9,435.04L632.4,432.42L633.9,429.56L635.4,426.48L636.9,423.20L638.4,419.73L639.9,416.09L641.4,412.30L642.9,408.38L644.4,404.35L645.9,400.21L647.4,396.00L648.9,391.72L650.4,387.38L651.9,382.99L653.4,378.56L654.9,374.09L656.4,369.58L657.9,365.03L659.4,360.44L660.9,355.80L662.4,351.11L663.9,346.36L665.4,341.54L666.9,336.65L668.4,331.69L669.9,326.66L671.4,321.55L672.9,316.38L674.4,311.16L675.9,305.89L677.4,300.60L678.9,295.32L680.4,290.08L681.9,284.90L683.4,279.83L684.9,274.93L686.4,270.22L687.9,265.77L689.4,261.63L690.9,257.85L692.4,254.50L693.9,251.62L695.4,249.26L696.9,247.49L698.4,246.34L699.9,245.86L701.4,246.08L702.9,247.03L704.4,248.75L705.9,251.23L707.4,254.49L708.9,258.53L710.4,263.34L711.9,268.90L713.4,275.18L714.9,282.15L716.4,289.78L717.9,298.01L719.4,306.80L720.9,316.08L722.4,325.80L723.9,335.89L725.4,346.29L726.9,356.92L728.4,367.73L729.9,378.64L731.4,389.58L732.9,400.51L734.4,411.34L735.9,422.04L737.4,432.54L738.9,442.79L740.4,452.77L741.9,462.42L743.4,471.71L744.9,480.62L746.4,489.13L747.9,497.21L749.4,504.86L750.9,512.06L752.4,518.82L753.9,525.14L755.4,531.02L756.9,536.47L758.4,541.50L759.9,546.13L761.4,550.36L762.9,554.23L764.4,557.74L765.9,560.92L767.4,563.78L768.9,566.36L770.4,568.66L771.9,570.71L773.4,572.53L774.9,574.15L776.4,575.57L777.9,576.81L779.4,577.90L780.9,578.85L782.4,579.68L783.9,580.39L785.4,581.01L786.9,581.53L788.4,581.98L789.9,582.37L791.4,582.69L792.9,582.97L794.4,583.20L795.9,583.40L797.4,583.56L798.9,583.69L800.4,583.81L801.9,583.90L803.4,583.98L804.9,584.04L806.4,584.09L807.9,584.13L809.4,584.17L810.9,584.19L812.4,584.22L813.9,584.23L815.4,584.25L816.9,584.26L818.4,584.27L819.9,584.28L821.4,584.28L822.9,584.29L824.4,584.29L825.9,584.29L827.4,584.29L828.9,584.29L830.4,584.30L831.9,584.30L833.4,584.30L834.9,584.30L836.4,584.30L837.9,584.30L839.4,584.30L840.9,584.30L842.4,584.30L843.9,584.30L845.4,584.30L846.9,584.30L848.4,584.30L849.9,584.30L851.4,584.30L852.9,584.30L854.4,584.30L855.9,584.30L857.4,584.30L858.9,584.30L860.4,584.30L861.9,584.30L863.4,584.30L864.9,584.30L866.4,584.30L867.9,584.30L869.4,584.30L870.9,584.30L872.4,584.30L873.9,584.30L875.4,584.30L876.9,584.30L878.4,584.30L879.9,584.30L881.4,584.30L882.9,584.30L884.4,584.30L885.9,584.30L887.4,584.30L888.9,584.30L890.4,584.30L891.9,584.30L893.4,584.30L894.9,584.30L896.4,584.30L897.9,584.30L899.4,584.30L900.9,584.30L902.4,584.30L903.9,584.30L905.4,584.30L906.9,584.30L908.4,584.30L909.9,584.30L911.4,584.30L912.9,584.30L914.4,584.30L915.9,584.30L917.4,584.30L918.9,584.30L920.4,584.30L921.9,584.30L923.4,584.30L924.9,584.30L926.4,584.30L927.9,584.30L929.4,584.30L930.9,584.30L932.4,584.30L933.9,584.30L935.4,584.30L936.9,584.30L938.4,584.30L939.9,584.30L941.4,584.30L942.9,584.30L944.4,584.30L945.9,584.30L947.4,584.30L948.9,584.30L950.4,584.30L951.9,584.30L953.4,584.30L954.9,584.30L956.4,584.30L957.9,584.30L959.4,584.30L960.9,584.30L962.4,584.30L963.9,584.30L965.4,584.30L966.9,584.30L968.4,584.30L969.9,584.30L971.4,584.30L972.9,584.30L974.4,584.30L975.9,584.30L977.4,584.30L978.9,584.30L980.4,584.30L981.9,584.30L983.4,584.30L984.9,584.30L986.4,584.30L987.9,584.30L989.4,584.30L990.9,584.30L992.4,584.30L993.9,584.30L995.4,584.30L996.9,584.30L998.4,584.30L999.9,584.30L1001.4,584.30L1002.9,584.30L1004.4,584.30L1005.9,584.30L1007.4,584.30L1008.9,584.30L1010.4,584.30L1011.9,584.30L1013.4,584.30L1014.9,584.30L1016.4,584.30L1017.9,584.30L1019.4,584.30L1020.9,584.30L1022.4,584.30L1023.9,584.30L1025.3,584.30L1026.8,584.30L1028.3,584.30L1029.8,584.30L1031.3,584.30L1032.8,584.30L1034.3,584.30L1035.8,584.30L1037.3,584.30L1038.8,584.30L1040.3,584.30L1041.8,584.30L1043.3,584.30L1044.8,584.30L1046.3,584.30L1047.8,584.30L1049.3,584.30L1050.8,584.30L1052.3,584.30L1053.8,584.30L1055.3,584.30L1056.8,584.30L1058.3,584.30L1059.8,584.30L1061.3,584.30L1062.8,584.30L1064.3,584.30L1065.8,584.30L1067.3,584.30L1068.8,584.30L1070.3,584.30L1071.8,584.30L1073.3,584.30L1074.8,584.30L1076.3,584.30L1077.8,584.30L1079.3,584.30L1080.8,584.30L1082.3,584.30L1083.8,584.30L1085.3,584.30L1086.8,584.30L1088.3,584.30L1089.8,584.30L1091.3,584.30L1092.8,584.30L1094.3,584.30L1095.8,584.30L1097.3,584.30L1098.8,584.30L1100.3,584.30L1101.8,584.30L1103.3,584.30L1104.8,584.30L1106.3,584.30L1107.8,584.30L1109.3,584.29L1110.8,584.29L1112.3,584.29L1113.8,584.29L1115.3,584.29L1116.8,584.29L1118.3,584.28L1119.8,584.28L1121.3,584.27L1122.8,584.27L1124.3,584.26L1125.8,584.25L1127.3,584.24L1128.8,584.23L1130.3,584.22L1131.8,584.21L1133.3,584.19L1134.8,584.17L1136.3,584.15L1137.8,584.12L1139.3,584.09L1140.8,584.06L1142.3,584.02L1143.8,583.97L1145.3,583.92L1146.8,583.87L1148.3,583.80L1149.8,583.73L1151.3,583.65L1152.8,583.56L1154.3,583.47L1155.8,583.36L1157.3,583.24L1158.8,583.10L1160.3,582.95L1161.8,582.79L1163.3,582.61L1164.8,582.41L1166.3,582.20L1167.8,581.96L1169.3,581.70L1170.8,581.42L1172.3,581.11L1173.8,580.77L1175.3,580.41L1176.8,580.01L1178.3,579.58L1179.8,579.10L1181.3,578.60L1182.8,578.04L1184.3,577.45L1185.8,576.80L1187.3,576.11L1188.8,575.37L1190.3,574.57L1191.8,573.72L1193.3,572.82L1194.8,571.85L1196.3,570.83L1197.8,569.75L1199.3,568.62L1200.8,567.43L1202.3,566.19L1203.8,564.90L1205.3,563.56L1206.8,562.19L1208.3,560.78L1209.8,559.34L1211.3,557.89L1212.8,556.43L1214.3,554.96L1215.8,553.51L1217.3,552.08L1218.8,550.68L1220.3,549.32L1221.8,548.02L1223.3,546.79L1224.8,545.63L1226.3,544.57L1227.8,543.61L1229.3,542.76L1230.8,542.03L1232.3,541.43L1233.8,540.97L1235.3,540.65L1236.8,540.47L1238.3,540.44L1239.8,540.56L1241.3,540.82L1242.8,541.23L1244.3,541.78L1245.8,542.46L1247.3,543.26L1248.8,544.19L1250.3,545.22L1251.8,546.35L1253.3,547.57L1254.8,548.86L1256.3,550.20L1257.8,551.59L1259.3,553.02L1260.8,554.46L1262.3,555.91L1263.8,557.35L1265.3,558.76L1266.8,560.14L1268.3,561.48L1269.8,562.75L1271.3,563.96L1272.8,565.09L1274.3,566.12L1275.8,567.07L1277.3,567.90L1278.8,568.63L1280.3,569.24L1281.8,569.72L1283.3,570.08L1284.8,570.30L1286.3,570.38L1287.8,570.33L1289.3,570.13L1290.8,569.78L1292.3,569.29L1293.8,568.64L1295.3,567.85L1296.8,566.91L1298.3,565.82L1299.8,564.58L1301.3,563.20L1302.8,561.67L1304.3,560.01L1305.8,558.21L1307.3,556.28L1308.8,554.23L1310.3,552.07L1311.8,549.80L1313.3,547.44L1314.8,544.98L1316.3,542.45L1317.8,539.86L1319.3,537.21L1320.8,534.53L1322.3,531.82L1323.8,529.11L1325.3,526.39L1326.8,523.70L1328.3,521.05L1329.8,518.44L1331.3,515.90L1332.8,513.45L1334.3,511.09L1335.8,508.85L1337.3,506.73L1338.8,504.76L1340.3,502.94L1341.8,501.28L1343.3,499.81L1344.8,498.52L1346.3,497.42L1347.8,496.54L1349.3,495.86L1350.8,495.40L1352.3,495.16L1353.8,495.15L1355.3,495.36L1356.8,495.79L1358.3,496.44L1359.8,497.30L1361.3,498.37L1362.8,499.64L1364.3,501.11L1365.8,502.75L1367.3,504.55L1368.8,506.51L1370.3,508.60L1371.8,510.80L1373.3,513.10L1374.8,515.48L1376.3,517.91L1377.8,520.37L1379.3,522.84L1380.8,525.30L1382.3,527.72L1383.8,530.08L1385.3,532.36L1386.8,534.53L1388.3,536.57L1389.8,538.45L1391.3,540.17L1392.8,541.70L1394.3,543.01L1395.8,544.10L1397.3,544.95L1398.8,545.55L1400.3,545.88L1401.8,545.93L1403.3,545.71L1404.8,545.20L1406.3,544.40L1407.8,543.32L1409.3,541.95L1410.8,540.30L1412.3,538.39L1413.8,536.21L1415.3,533.78L1416.8,531.12L1418.3,528.24L1419.8,525.16L1421.3,521.91L1422.8,518.52L1424.3,514.99L1425.8,511.37L1427.3,507.69L1428.8,503.96L1430.3,500.23L1431.8,496.52L1433.3,492.86L1434.8,489.30L1436.3,485.85L1437.8,482.55L1439.3,479.43L1440.8,476.52L1442.3,473.85L1443.8,471.43L1445.3,469.30L1446.8,467.46L1448.3,465.95L1449.8,464.77L1451.3,463.94L1452.8,463.46L1454.3,463.34L1455.8,463.58L1457.3,464.18L1458.8,465.13L1460.3,466.42L1461.8,468.05L1463.3,470.01L1464.8,472.26L1466.3,474.80L1467.8,477.60L1469.3,480.65L1470.8,483.91L1472.3,487.36L1473.8,490.97L1475.3,494.72L1476.8,498.58L1478.3,502.53L1479.8,506.52L1481.3,510.55L1482.8,514.58L1484.3,518.59L1485.8,522.55L1487.3,526.46L1488.8,530.28L1490.3,534.00L1491.8,537.61L1493.3,541.09L1494.8,544.43L1496.3,547.62L1497.8,550.66L1499.3,553.54L1500.8,556.26L1502.3,558.81L1503.8,561.19L1505.3,563.42L1506.8,565.48L1508.3,567.39L1509.8,569.15L1511.3,570.76L1512.8,572.23L1514.3,573.58L1515.8,574.79L1517.3,575.89L1518.8,576.89L1520.3,577.78L1521.8,578.57L1523.3,579.28L1524.8,579.92L1526.3,580.48L1527.8,580.97L1529.3,581.41L1530.8,581.80L1532.3,582.13L1533.8,582.43L1535.3,582.68L1536.8,582.91L1538.3,583.10L1539.8,583.27L1541.3,583.42L1542.8,583.54L1544.3,583.65L1545.8,583.75L1547.3,583.83L1548.8,583.90L1550.3,583.96L1551.8,584.01L1553.3,584.05L1554.8,584.09L1556.3,584.12L1557.8,584.15L1559.3,584.17L1560.8,584.19L1562.3,584.21L1563.8,584.22L1565.3,584.23L1566.8,584.25L1568.3,584.25L1569.8,584.26L1571.3,584.27L1572.8,584.27L1574.3,584.28L1575.8,584.28L1577.3,584.28L1578.8,584.29L1580.3,584.29L1581.8,584.29L1583.3,584.29L1584.8,584.29L1586.3,584.30L1587.8,584.30L1589.3,584.30L1590.8,584.30L1592.3,584.30L1593.8,584.30L1595.3,584.30L1596.8,584.30L1598.3,584.30L1599.8,584.30L1601.3,584.30L1602.8,584.30L1604.3,584.30L1605.8,584.30L1607.3,584.30L1608.8,584.30L1610.3,584.30L1611.8,584.30L1613.3,584.30L1614.8,584.30L1616.3,584.30L1617.8,584.30L1619.3,584.30L1620.8,584.30L1622.3,584.30L1623.8,584.30L1625.3,584.30L1626.8,584.30L1628.3,584.30L1629.8,584.30L1631.3,584.30L1632.8,584.30L1634.3,584.30L1635.8,584.30L1637.3,584.30L1638.8,584.30L1640.3,584.30L1641.8,584.30L1643.3,584.30L1644.8,584.30L1646.3,584.30L1647.8,584.30L1649.3,584.30L1650.8,584.30L1652.3,584.30L1653.8,584.30L1655.3,584.30L1656.8,584.30L1658.3,584.30L1659.8,584.30L1661.3,584.30L1662.8,584.30L1664.3,584.30L1665.8,584.30L1667.3,584.30L1668.8,584.30L1670.3,584.30L1671.8,584.30L1673.3,584.30L1674.8,584.30L1676.3,584.30L1677.8,584.30L1679.3,584.30L1680.8,584.30L1682.3,584.30L1683.8,584.30L1685.3,584.30L1686.8,584.30L1688.3,584.30L1689.8,584.30L1691.3,584.30L1692.8,584.30L1694.3,584.30L1695.8,584.30L1697.3,584.30L1698.8,584.30L1700.3,584.30L1701.8,584.30L1703.3,584.30L1704.8,584.30L1706.3,584.30L1707.8,584.30L1709.3,584.30L1710.8,584.30L1712.3,584.30L1713.8,584.30L1715.3,584.30L1716.8,584.30L1718.3,584.30L1719.8,584.30L1721.3,584.30L1722.8,584.30L1724.3,584.30L1725.8,584.30L1727.3,584.30L1728.8,584.30L1730.3,584.30L1731.8,584.30L1733.3,584.30L1734.8,584.30L1736.3,584.30L1737.8,584.30L1739.3,584.30L1740.8,584.30L1742.3,584.30L1743.8,584.30L1745.3,584.30L1746.8,584.30L1748.3,584.30L1749.8,584.30L1751.3,584.30L1752.8,584.30L1754.3,584.30L1755.8,584.30L1757.3,584.30L1758.8,584.30L1760.3,584.30L1761.8,584.30L1763.3,584.30L1764.8,584.30L1766.3,584.30L1767.8,584.30L1769.3,584.30L1770.8,584.30L1772.3,584.30L1773.8,584.30L1775.3,584.30L1776.8,584.30L1778.3,584.30L1779.8,584.30L1781.3,584.30L1782.8,584.30L1784.3,584.30L1785.8,584.30L1787.3,584.30L1788.8,584.30L1790.3,584.30L1791.8,584.30L1793.3,584.30L1794.8,584.30L1796.3,584.30L1797.8,584.30L1799.3,584.30L1800.8,584.30L1802.3,584.30L1803.8,584.30L1805.3,584.30L1806.8,584.30L1808.3,584.30L1809.8,584.30L1811.3,584.30L1812.8,584.30L1814.3,584.30L1815.8,584.30L1817.3,584.30L1818.8,584.30L1820.3,584.30L1821.8,584.30L1823.3,584.30L1824.8,584.30L1826.3,584.30L1827.8,584.30L1829.3,584.30L1830.8,584.30L1832.3,584.30L1833.8,584.30L1835.3,584.30L1836.8,584.30L1838.3,584.30L1839.8,584.30L1841.3,584.30L1842.8,584.30L1844.3,584.30L1845.8,584.30L1847.3,584.30L1848.8,584.30L1850.3,584.30L1851.8,584.30L1853.3,584.30L1854.8,584.30L1856.3,584.30L1857.8,584.30L1859.3,584.30L1860.8,584.30L1862.3,584.30L1863.8,584.30L1865.3,584.30L1866.8,584.30L1868.3,584.30L1869.8,584.30L1871.3,584.30L1872.8,584.30L1874.3,584.30L1875.8,584.30L1877.3,584.30L1878.8,584.30L1880.3,584.30L1881.8,584.30L1883.3,584.30L1884.8,584.30" stroke="#f00" stroke-width="5.8"/>
<path d="M242.3,584.30L243.8,584.30L245.3,584.30L246.8,584.30L248.3,584.30L249.8,584.30L251.3,584.30L252.8,584.30L254.3,584.30L255.8,584.30L257.4,584.30L258.9,584.30L260.4,584.30L261.9,584.30L263.4,584.30L264.9,584.30L266.4,584.30L267.9,584.30L269.4,584.30L270.9,584.30L272.4,584.30L273.9,584.30L275.4,584.30L276.9,584.30L278.4,584.30L279.9,584.30L281.4,584.30L282.9,584.30L284.4,584.30L285.9,584.30L287.4,584.30L288.9,584.30L290.4,584.30L291.9,584.30L293.4,584.30L294.9,584.30L296.4,584.30L297.9,584.30L299.4,584.30L300.9,584.30L302.4,584.30L303.9,584.30L305.4,584.30L306.9,584.30L308.4,584.30L309.9,584.30L311.4,584.30L312.9,584.30L314.4,584.30L315.9,584.30L317.4,584.30L318.9,584.30L320.4,584.30L321.9,584.30L323.4,584.30L324.9,584.30L326.4,584.30L327.9,584.30L329.4,584.30L330.9,584.30L332.4,584.30L333.9,584.30L335.4,584.30L336.9,584.30L338.4,584.30L339.9,584.30L341.4,584.30L342.9,584.30L344.4,584.30L345.9,584.30L347.4,584.30L348.9,584.30L350.4,584.30L351.9,584.30L353.4,584.30L354.9,584.30L356.4,584.30L357.9,584.30L359.4,584.30L360.9,584.30L362.4,584.30L363.9,584.30L365.4,584.30L366.9,584.29L368.4,584.29L369.9,584.29L371.4,584.29L372.9,584.29L374.4,584.29L375.9,584.28L377.4,584.28L378.9,584.28L380.4,584.27L381.9,584.27L383.4,584.26L384.9,584.26L386.4,584.25L387.9,584.24L389.4,584.23L390.9,584.22L392.4,584.21L393.9,584.19L395.4,584.18L396.9,584.16L398.4,584.14L399.9,584.12L401.4,584.10L402.9,584.07L404.4,584.04L405.9,584.01L407.4,583.98L408.9,583.95L410.4,583.91L411.9,583.87L413.4,583.82L414.9,583.77L416.4,583.72L417.9,583.67L419.4,583.61L420.9,583.55L422.4,583.48L423.9,583.41L425.4,583.33L426.9,583.25L428.4,583.17L429.9,583.08L431.4,582.98L432.9,582.88L434.4,582.77L435.9,582.66L437.4,582.54L438.9,582.41L440.4,582.27L441.9,582.13L443.4,581.98L444.9,581.82L446.4,581.65L447.9,581.47L449.4,581.29L450.9,581.10L452.4,580.90L453.9,580.69L455.4,580.47L456.9,580.25L458.4,580.02L459.9,579.79L461.4,579.56L462.9,579.32L464.4,579.08L465.9,578.84L467.4,578.60L468.9,578.37L470.4,578.14L471.9,577.93L473.4,577.72L474.9,577.52L476.4,577.33L477.9,577.17L479.4,577.01L480.9,576.88L482.4,576.77L483.9,576.67L485.4,576.60L486.9,576.56L488.4,576.53L489.9,576.53L491.4,576.55L492.9,576.59L494.4,576.65L495.9,576.72L497.4,576.82L498.9,576.92L500.4,577.04L501.9,577.17L503.4,577.30L504.9,577.42L506.4,577.55L507.9,577.66L509.4,577.75L510.9,577.83L512.4,577.87L513.9,577.89L515.4,577.86L516.9,577.79L518.4,577.66L519.9,577.47L521.4,577.21" stroke="#f00" stroke-width="6.7"/>
<path d="M599.4,446.61L600.9,446.44L602.4,446.42L603.9,446.52L605.4,446.70L606.9,446.94L608.4,447.21L609.9,447.46L611.4,447.68L612.9,447.82L614.4,447.85L615.9,447.75L617.4,447.49" stroke="#f00" stroke-width="6.7"/>
<path d="M791.4,582.69L792.9,582.97L794.4,583.20L795.9,583.40L797.4,583.56L798.9,583.69L800.4,583.81L801.9,583.90L803.4,583.98L804.9,584.04L806.4,584.09L807.9,584.13L809.4,584.17L810.9,584.19L812.4,584.22L813.9,584.23L815.4,584.25L816.9,584.26L818.4,584.27L819.9,584.28L821.4,584.28L822.9,584.29L824.4,584.29L825.9,584.29L827.4,584.29L828.9,584.29L830.4,584.30L831.9,584.30L833.4,584.30L834.9,584.30L836.4,584.30L837.9,584.30L839.4,584.30L840.9,584.30L842.4,584.30L843.9,584.30L845.4,584.30L846.9,584.30L848.4,584.30L849.9,584.30L851.4,584.30L852.9,584.30L854.4,584.30L855.9,584.30L857.4,584.30L858.9,584.30L860.4,584.30L861.9,584.30L863.4,584.30L864.9,584.30L866.4,584.30L867.9,584.30L869.4,584.30L870.9,584.30L872.4,584.30L873.9,584.30L875.4,584.30L876.9,584.30L878.4,584.30L879.9,584.30L881.4,584.30L882.9,584.30L884.4,584.30L885.9,584.30L887.4,584.30L888.9,584.30L890.4,584.30L891.9,584.30L893.4,584.30L894.9,584.30L896.4,584.30L897.9,584.30L899.4,584.30L900.9,584.30L902.4,584.30L903.9,584.30L905.4,584.30L906.9,584.30L908.4,584.30L909.9,584.30L911.4,584.30L912.9,584.30L914.4,584.30L915.9,584.30L917.4,584.30L918.9,584.30L920.4,584.30L921.9,584.30L923.4,584.30L924.9,584.30L926.4,584.30L927.9,584.30L929.4,584.30L930.9,584.30L932.4,584.30L933.9,584.30L935.4,584.30L936.9,584.30L938.4,584.30L939.9,584.30L941.4,584.30L942.9,584.30L944.4,584.30L945.9,584.30L947.4,584.30L948.9,584.30L950.4,584.30L951.9,584.30L953.4,584.30L954.9,584.30L956.4,584.30L957.9,584.30L959.4,584.30L960.9,584.30L962.4,584.30L963.9,584.30L965.4,584.30L966.9,584.30L968.4,584.30L969.9,584.30L971.4,584.30L972.9,584.30L974.4,584.30L975.9,584.30L977.4,584.30L978.9,584.30L980.4,584.30L981.9,584.30L983.4,584.30L984.9,584.30L986.4,584.30L987.9,584.30L989.4,584.30L990.9,584.30L992.4,584.30L993.9,584.30L995.4,584.30L996.9,584.30L998.4,584.30L999.9,584.30L1001.4,584.30L1002.9,584.30L1004.4,584.30L1005.9,584.30L1007.4,584.30L1008.9,584.30L1010.4,584.30L1011.9,584.30L1013.4,584.30L1014.9,584.30L1016.4,584.30L1017.9,584.30L1019.4,584.30L1020.9,584.30L1022.4,584.30L1023.9,584.30L1025.3,584.30L1026.8,584.30L1028.3,584.30L1029.8,584.30L1031.3,584.30L1032.8,584.30L1034.3,584.30L1035.8,584.30L1037.3,584.30L1038.8,584.30L1040.3,584.30L1041.8,584.30L1043.3,584.30L1044.8,584.30L1046.3,584.30L1047.8,584.30L1049.3,584.30L1050.8,584.30L1052.3,584.30L1053.8,584.30L1055.3,584.30L1056.8,584.30L1058.3,584.30L1059.8,584.30L1061.3,584.30L1062.8,584.30L1064.3,584.30L1065.8,584.30L1067.3,584.30L1068.8,584.30L1070.3,584.30L1071.8,584.30L1073.3,584.30L1074.8,584.30L1076.3,584.30L1077.8,584.30L1079.3,584.30L1080.8,584.30L1082.3,584.30L1083.8,584.30L1085.3,584.30L1086.8,584.30L1088.3,584.30L1089.8,584.30L1091.3,584.30L1092.8,584.30L1094.3,584.30L1095.8,584.30L1097.3,584.30L1098.8,584.30L1100.3,584.30L1101.8,584.30L1103.3,584.30L1104.8,584.30L1106.3,584.30L1107.8,584.30L1109.3,584.29L1110.8,584.29L1112.3,584.29L1113.8,584.29L1115.3,584.29L1116.8,584.29L1118.3,584.28L1119.8,584.28L1121.3,584.27L1122.8,584.27L1124.3,584.26L1125.8,584.25L1127.3,584.24L1128.8,584.23L1130.3,584.22L1131.8,584.21L1133.3,584.19L1134.8,584.17L1136.3,584.15L1137.8,584.12L1139.3,584.09L1140.8,584.06L1142.3,584.02L1143.8,583.97L1145.3,583.92L1146.8,583.87L1148.3,583.80L1149.8,583.73L1151.3,583.65L1152.8,583.56L1154.3,583.47L1155.8,583.36L1157.3,583.24L1158.8,583.10L1160.3,582.95L1161.8,582.79L1163.3,582.61L1164.8,582.41L1166.3,582.20L1167.8,581.96L1169.3,581.70L1170.8,581.42" stroke="#f00" stroke-width="6.7"/>
<path d="M1235.3,540.65L1236.8,540.47L1238.3,540.44L1239.8,540.56L1241.3,540.82" stroke="#f00" stroke-width="6.7"/>
<path d="M1283.3,570.08L1284.8,570.30L1286.3,570.38L1287.8,570.33L1289.3,570.13" stroke="#f00" stroke-width="6.7"/>
<path d="M1350.8,495.40L1352.3,495.16L1353.8,495.15L1355.3,495.36" stroke="#f00" stroke-width="6.7"/>
<path d="M1400.3,545.88L1401.8,545.93L1403.3,545.71" stroke="#f00" stroke-width="6.7"/>
<path d="M1452.8,463.46L1454.3,463.34L1455.8,463.58" stroke="#f00" stroke-width="6.7"/>
<path d="M1532.3,582.13L1533.8,582.43L1535.3,582.68L1536.8,582.91L1538.3,583.10L1539.8,583.27L1541.3,583.42L1542.8,583.54L1544.3,583.65L1545.8,583.75L1547.3,583.83L1548.8,583.90L1550.3,583.96L1551.8,584.01L1553.3,584.05L1554.8,584.09L1556.3,584.12L1557.8,584.15L1559.3,584.17L1560.8,584.19L1562.3,584.21L1563.8,584.22L1565.3,584.23L1566.8,584.25L1568.3,584.25L1569.8,584.26L1571.3,584.27L1572.8,584.27L1574.3,584.28L1575.8,584.28L1577.3,584.28L1578.8,584.29L1580.3,584.29L1581.8,584.29L1583.3,584.29L1584.8,584.29L1586.3,584.30L1587.8,584.30L1589.3,584.30L1590.8,584.30L1592.3,584.30L1593.8,584.30L1595.3,584.30L1596.8,584.30L1598.3,584.30L1599.8,584.30L1601.3,584.30L1602.8,584.30L1604.3,584.30L1605.8,584.30L1607.3,584.30L1608.8,584.30L1610.3,584.30L1611.8,584.30L1613.3,584.30L1614.8,584.30L1616.3,584.30L1617.8,584.30L1619.3,584.30L1620.8,584.30L1622.3,584.30L1623.8,584.30L1625.3,584.30L1626.8,584.30L1628.3,584.30L1629.8,584.30L1631.3,584.30L1632.8,584.30L1634.3,584.30L1635.8,584.30L1637.3,584.30L1638.8,584.30L1640.3,584.30L1641.8,584.30L1643.3,584.30L1644.8,584.30L1646.3,584.30L1647.8,584.30L1649.3,584.30L1650.8,584.30L1652.3,584.30L1653.8,584.30L1655.3,584.30L1656.8,584.30L1658.3,584.30L1659.8,584.30L1661.3,584.30L1662.8,584.30L1664.3,584.30L1665.8,584.30L1667.3,584.30L1668.8,584.30L1670.3,584.30L1671.8,584.30L1673.3,584.30L1674.8,584.30L1676.3,584.30L1677.8,584.30L1679.3,584.30L1680.8,584.30L1682.3,584.30L1683.8,584.30L1685.3,584.30L1686.8,584.30L1688.3,584.30L1689.8,584.30L1691.3,584.30L1692.8,584.30L1694.3,584.30L1695.8,584.30L1697.3,584.30L1698.8,584.30L1700.3,584.30L1701.8,584.30L1703.3,584.30L1704.8,584.30L1706.3,584.30L1707.8,584.30L1709.3,584.30L1710.8,584.30L1712.3,584.30L1713.8,584.30L1715.3,584.30L1716.8,584.30L1718.3,584.30L1719.8,584.30L1721.3,584.30L1722.8,584.30L1724.3,584.30L1725.8,584.30L1727.3,584.30L1728.8,584.30L1730.3,584.30L1731.8,584.30L1733.3,584.30L1734.8,584.30L1736.3,584.30L1737.8,584.30L1739.3,584.30L1740.8,584.30L1742.3,584.30L1743.8,584.30L1745.3,584.30L1746.8,584.30L1748.3,584.30L1749.8,584.30L1751.3,584.30L1752.8,584.30L1754.3,584.30L1755.8,584.30L1757.3,584.30L1758.8,584.30L1760.3,584.30L1761.8,584.30L1763.3,584.30L1764.8,584.30L1766.3,584.30L1767.8,584.30L1769.3,584.30L1770.8,584.30L1772.3,584.30L1773.8,584.30L1775.3,584.30L1776.8,584.30L1778.3,584.30L1779.8,584.30L1781.3,584.30L1782.8,584.30L1784.3,584.30L1785.8,584.30L1787.3,584.30L1788.8,584.30L1790.3,584.30L1791.8,584.30L1793.3,584.30L1794.8,584.30L1796.3,584.30L1797.8,584.30L1799.3,584.30L1800.8,584.30L1802.3,584.30L1803.8,584.30L1805.3,584.30L1806.8,584.30L1808.3,584.30L1809.8,584.30L1811.3,584.30L1812.8,584.30L1814.3,584.30L1815.8,584.30L1817.3,584.30L1818.8,584.30L1820.3,584.30L1821.8,584.30L1823.3,584.30L1824.8,584.30L1826.3,584.30L1827.8,584.30L1829.3,584.30L1830.8,584.30L1832.3,584.30L1833.8,584.30L1835.3,584.30L1836.8,584.30L1838.3,584.30L1839.8,584.30L1841.3,584.30L1842.8,584.30L1844.3,584.30L1845.8,584.30L1847.3,584.30L1848.8,584.30L1850.3,584.30L1851.8,584.30L1853.3,584.30L1854.8,584.30L1856.3,584.30L1857.8,584.30L1859.3,584.30L1860.8,584.30L1862.3,584.30L1863.8,584.30L1865.3,584.30L1866.8,584.30L1868.3,584.30L1869.8,584.30L1871.3,584.30L1872.8,584.30L1874.3,584.30L1875.8,584.30L1877.3,584.30L1878.8,584.30L1880.3,584.30L1881.8,584.30L1883.3,584.30L1884.8,584.30" stroke="#f00" stroke-width="6.7"/>
</g>
<rect x="225.95" y="600.35" width="16.40" height="4.60" fill="#000"/>
<rect x="209.05" y="582.20" width="33.30" height="4.60" fill="#000"/>
<rect x="225.95" y="564.05" width="16.40" height="4.60" fill="#000"/>
<rect x="225.95" y="545.89" width="16.40" height="4.60" fill="#000"/>
<rect x="225.95" y="527.74" width="16.40" height="4.60" fill="#000"/>
<rect x="209.05" y="509.59" width="33.30" height="4.60" fill="#000"/>
<rect x="225.95" y="491.43" width="16.40" height="4.60" fill="#000"/>
<rect x="225.95" y="473.28" width="16.40" height="4.60" fill="#000"/>
<rect x="225.95" y="455.13" width="16.40" height="4.60" fill="#000"/>
<rect x="209.05" y="436.97" width="33.30" height="4.60" fill="#000"/>
<rect x="225.95" y="418.82" width="16.40" height="4.60" fill="#000"/>
<rect x="225.95" y="400.66" width="16.40" height="4.60" fill="#000"/>
<rect x="225.95" y="382.51" width="16.40" height="4.60" fill="#000"/>
<rect x="209.05" y="364.36" width="33.30" height="4.60" fill="#000"/>
<rect x="225.95" y="346.20" width="16.40" height="4.60" fill="#000"/>
<rect x="225.95" y="328.05" width="16.40" height="4.60" fill="#000"/>
<rect x="225.95" y="309.90" width="16.40" height="4.60" fill="#000"/>
<rect x="209.05" y="291.74" width="33.30" height="4.60" fill="#000"/>
<rect x="225.95" y="273.59" width="16.40" height="4.60" fill="#000"/>
<rect x="225.95" y="255.44" width="16.40" height="4.60" fill="#000"/>
<rect x="225.95" y="237.28" width="16.40" height="4.60" fill="#000"/>
<rect x="209.05" y="219.13" width="33.30" height="4.60" fill="#000"/>
<rect x="225.95" y="200.98" width="16.40" height="4.60" fill="#000"/>
<rect x="225.95" y="182.82" width="16.40" height="4.60" fill="#000"/>
<rect x="225.95" y="164.67" width="16.40" height="4.60" fill="#000"/>
<rect x="209.05" y="146.51" width="33.30" height="4.60" fill="#000"/>
<rect x="225.95" y="128.36" width="16.40" height="4.60" fill="#000"/>
<rect x="225.95" y="110.21" width="16.40" height="4.60" fill="#000"/>
<rect x="225.95" y="92.05" width="16.40" height="4.60" fill="#000"/>
<rect x="209.05" y="73.90" width="33.30" height="4.60" fill="#000"/>
<rect x="239.82" y="602.65" width="5.05" height="33.30" fill="#000"/>
<rect x="321.99" y="602.65" width="5.05" height="16.40" fill="#000"/>
<rect x="404.14" y="602.65" width="5.05" height="16.40" fill="#000"/>
<rect x="486.31" y="602.65" width="5.05" height="16.40" fill="#000"/>
<rect x="568.46" y="602.65" width="5.05" height="16.40" fill="#000"/>
<rect x="650.62" y="602.65" width="5.05" height="33.30" fill="#000"/>
<rect x="732.79" y="602.65" width="5.05" height="16.40" fill="#000"/>
<rect x="814.95" y="602.65" width="5.05" height="16.40" fill="#000"/>
<rect x="897.10" y="602.65" width="5.05" height="16.40" fill="#000"/>
<rect x="979.26" y="602.65" width="5.05" height="16.40" fill="#000"/>
<rect x="1061.42" y="602.65" width="5.05" height="33.30" fill="#000"/>
<rect x="1143.59" y="602.65" width="5.05" height="16.40" fill="#000"/>
<rect x="1225.75" y="602.65" width="5.05" height="16.40" fill="#000"/>
<rect x="1307.90" y="602.65" width="5.05" height="16.40" fill="#000"/>
<rect x="1390.07" y="602.65" width="5.05" height="16.40" fill="#000"/>
<rect x="1472.22" y="602.65" width="5.05" height="33.30" fill="#000"/>
<rect x="1554.38" y="602.65" width="5.05" height="16.40" fill="#000"/>
<rect x="1636.55" y="602.65" width="5.05" height="16.40" fill="#000"/>
<rect x="1718.70" y="602.65" width="5.05" height="16.40" fill="#000"/>
<rect x="1800.87" y="602.65" width="5.05" height="16.40" fill="#000"/>
<rect x="1883.02" y="602.65" width="5.05" height="33.30" fill="#000"/>
<rect x="239.82" y="72.87" width="1648.25" height="6.20" fill="#000"/>
<rect x="239.82" y="599.04" width="1648.25" height="6.61" fill="#000"/>
<rect x="239.82" y="76.20" width="5.05" height="526.45" fill="#000"/>
<rect x="1883.02" y="76.20" width="5.05" height="526.45" fill="#000"/>
<g clip-path="url(#cb)" fill="none" stroke="#40e0d0" stroke-linejoin="round">
<polyline stroke-width="6.5" points="321.38,1206.57 348.10,1206.57"/>
<polyline stroke-width="6.5" points="366.47,1206.73 396.86,1204.90"/>
<polyline stroke-width="6.5" points="415.23,1202.89 446.63,1204.23"/>
<polyline stroke-width="6.5" points="465.00,1202.06 495.73,1199.05"/>
<polyline stroke-width="6.5" points="514.60,1197.55 533.81,1196.21 544.66,1194.54"/>
<polyline stroke-width="5.9" points="562.20,1187.53 575.56,1182.85 589.76,1174.50"/>
<polyline stroke-width="5.9" points="606.57,1164.80 631.46,1148.94"/>
<polyline stroke-width="5.9" points="643.15,1134.00 650.77,1122.32 663.98,1111.65"/>
<polyline stroke-width="5.9" points="676.18,1097.42 683.29,1083.70 692.95,1072.01"/>
<polyline stroke-width="5.9" points="703.54,1055.36 708.55,1042.83 716.57,1028.64"/>
<polyline stroke-width="5.9" points="724.92,1010.26 730.26,999.41 740.29,986.05"/>
<polyline stroke-width="5.9" points="749.47,968.51 756.99,955.15 766.67,943.13"/>
<polyline stroke-width="5.9" points="774.52,925.93 779.53,911.73 786.71,898.04"/>
<polyline stroke-width="5.9" points="794.26,880.33 801.77,867.80 812.13,856.95"/>
<polyline stroke-width="5.9" points="825.15,841.91 843.52,818.03"/>
<polyline stroke-width="5.9" points="853.54,801.83 863.56,783.46 866.90,779.79 871.91,778.79"/>
<polyline stroke-width="5.9" points="889.45,770.60 908.66,761.75 917.51,760.58"/>
<polyline stroke-width="6.5" points="936.21,756.41 964.60,750.90"/>
<polyline stroke-width="5.9" points="982.14,761.75 1008.53,776.78"/>
<polyline stroke-width="5.9" points="1023.89,788.81 1048.11,806.84"/>
<polyline stroke-width="5.9" points="1061.69,819.79 1085.07,839.83"/>
<polyline stroke-width="5.9" points="1098.43,853.52 1113.46,868.55 1119.31,875.23"/>
<polyline stroke-width="5.9" points="1133.50,887.76 1158.22,906.13"/>
<polyline stroke-width="5.9" points="1174.42,916.15 1201.14,930.01"/>
<polyline stroke-width="6.5" points="1217.84,937.86 1248.74,939.87"/>
<polyline stroke-width="6.5" points="1267.94,940.70 1286.31,940.87 1296.84,936.19"/>
<polyline stroke-width="5.9" points="1314.37,928.68 1332.24,922.00 1341.93,914.48"/>
<polyline stroke-width="5.9" points="1355.01,902.46 1378.39,882.75"/>
<polyline stroke-width="5.9" points="1392.59,869.39 1417.64,853.52"/>
<polyline stroke-width="5.9" points="1433.50,841.83 1450.20,829.31 1458.55,825.97"/>
<polyline stroke-width="5.9" points="1476.92,820.12 1491.96,815.95 1506.65,812.27"/>
<polyline stroke-width="5.9" points="1524.52,815.95 1554.58,823.13"/>
<polyline stroke-width="5.9" points="1572.62,828.47 1583.81,830.14 1600.18,839.83"/>
<polyline stroke-width="5.9" points="1616.37,851.02 1638.09,871.06"/>
<polyline stroke-width="5.9" points="1648.94,888.59 1667.31,911.98"/>
<polyline stroke-width="5.9" points="1681.33,924.88 1702.71,944.92"/>
<polyline stroke-width="5.9" points="1716.90,958.62 1742.79,974.48"/>
<polyline stroke-width="6.5" points="1759.16,984.17 1789.05,987.84"/>
<polyline stroke-width="6.5" points="1808.26,991.18 1838.32,995.36"/>
<polyline stroke-width="5.9" points="1856.35,991.52 1883.08,983.33"/>
</g>
<rect x="225.95" y="1231.96" width="16.40" height="4.60" fill="#000"/>
<rect x="209.05" y="1213.80" width="33.30" height="4.60" fill="#000"/>
<rect x="225.95" y="1195.64" width="16.40" height="4.60" fill="#000"/>
<rect x="225.95" y="1177.48" width="16.40" height="4.60" fill="#000"/>
<rect x="225.95" y="1159.32" width="16.40" height="4.60" fill="#000"/>
<rect x="209.05" y="1141.16" width="33.30" height="4.60" fill="#000"/>
<rect x="225.95" y="1123.01" width="16.40" height="4.60" fill="#000"/>
<rect x="225.95" y="1104.85" width="16.40" height="4.60" fill="#000"/>
<rect x="225.95" y="1086.69" width="16.40" height="4.60" fill="#000"/>
<rect x="209.05" y="1068.53" width="33.30" height="4.60" fill="#000"/>
<rect x="225.95" y="1050.37" width="16.40" height="4.60" fill="#000"/>
<rect x="225.95" y="1032.21" width="16.40" height="4.60" fill="#000"/>
<rect x="225.95" y="1014.05" width="16.40" height="4.60" fill="#000"/>
<rect x="209.05" y="995.89" width="33.30" height="4.60" fill="#000"/>
<rect x="225.95" y="977.73" width="16.40" height="4.60" fill="#000"/>
<rect x="225.95" y="959.58" width="16.40" height="4.60" fill="#000"/>
<rect x="225.95" y="941.42" width="16.40" height="4.60" fill="#000"/>
<rect x="209.05" y="923.26" width="33.30" height="4.60" fill="#000"/>
<rect x="225.95" y="905.10" width="16.40" height="4.60" fill="#000"/>
<rect x="225.95" y="886.94" width="16.40" height="4.60" fill="#000"/>
<rect x="225.95" y="868.78" width="16.40" height="4.60" fill="#000"/>
<rect x="209.05" y="850.62" width="33.30" height="4.60" fill="#000"/>
<rect x="225.95" y="832.46" width="16.40" height="4.60" fill="#000"/>
<rect x="225.95" y="814.30" width="16.40" height="4.60" fill="#000"/>
<rect x="225.95" y="796.14" width="16.40" height="4.60" fill="#000"/>
<rect x="209.05" y="777.99" width="33.30" height="4.60" fill="#000"/>
<rect x="225.95" y="759.83" width="16.40" height="4.60" fill="#000"/>
<rect x="225.95" y="741.67" width="16.40" height="4.60" fill="#000"/>
<rect x="225.95" y="723.51" width="16.40" height="4.60" fill="#000"/>
<rect x="209.05" y="705.35" width="33.30" height="4.60" fill="#000"/>
<rect x="239.82" y="1234.26" width="5.05" height="33.30" fill="#000"/>
<rect x="239.82" y="674.35" width="5.05" height="33.30" fill="#000"/>
<rect x="321.99" y="1234.26" width="5.05" height="16.40" fill="#000"/>
<rect x="321.99" y="691.25" width="5.05" height="16.40" fill="#000"/>
<rect x="404.14" y="1234.26" width="5.05" height="16.40" fill="#000"/>
<rect x="404.14" y="691.25" width="5.05" height="16.40" fill="#000"/>
<rect x="486.31" y="1234.26" width="5.05" height="16.40" fill="#000"/>
<rect x="486.31" y="691.25" width="5.05" height="16.40" fill="#000"/>
<rect x="568.46" y="1234.26" width="5.05" height="16.40" fill="#000"/>
<rect x="568.46" y="691.25" width="5.05" height="16.40" fill="#000"/>
<rect x="650.62" y="1234.26" width="5.05" height="33.30" fill="#000"/>
<rect x="650.62" y="674.35" width="5.05" height="33.30" fill="#000"/>
<rect x="732.79" y="1234.26" width="5.05" height="16.40" fill="#000"/>
<rect x="732.79" y="691.25" width="5.05" height="16.40" fill="#000"/>
<rect x="814.95" y="1234.26" width="5.05" height="16.40" fill="#000"/>
<rect x="814.95" y="691.25" width="5.05" height="16.40" fill="#000"/>
<rect x="897.10" y="1234.26" width="5.05" height="16.40" fill="#000"/>
<rect x="897.10" y="691.25" width="5.05" height="16.40" fill="#000"/>
<rect x="979.26" y="1234.26" width="5.05" height="16.40" fill="#000"/>
<rect x="979.26" y="691.25" width="5.05" height="16.40" fill="#000"/>
<rect x="1061.42" y="1234.26" width="5.05" height="33.30" fill="#000"/>
<rect x="1061.42" y="674.35" width="5.05" height="33.30" fill="#000"/>
<rect x="1143.59" y="1234.26" width="5.05" height="16.40" fill="#000"/>
<rect x="1143.59" y="691.25" width="5.05" height="16.40" fill="#000"/>
<rect x="1225.75" y="1234.26" width="5.05" height="16.40" fill="#000"/>
<rect x="1225.75" y="691.25" width="5.05" height="16.40" fill="#000"/>
<rect x="1307.90" y="1234.26" width="5.05" height="16.40" fill="#000"/>
<rect x="1307.90" y="691.25" width="5.05" height="16.40" fill="#000"/>
<rect x="1390.07" y="1234.26" width="5.05" height="16.40" fill="#000"/>
<rect x="1390.07" y="691.25" width="5.05" height="16.40" fill="#000"/>
<rect x="1472.22" y="1234.26" width="5.05" height="33.30" fill="#000"/>
<rect x="1472.22" y="674.35" width="5.05" height="33.30" fill="#000"/>
<rect x="1554.38" y="1234.26" width="5.05" height="16.40" fill="#000"/>
<rect x="1554.38" y="691.25" width="5.05" height="16.40" fill="#000"/>
<rect x="1636.55" y="1234.26" width="5.05" height="16.40" fill="#000"/>
<rect x="1636.55" y="691.25" width="5.05" height="16.40" fill="#000"/>
<rect x="1718.70" y="1234.26" width="5.05" height="16.40" fill="#000"/>
<rect x="1718.70" y="691.25" width="5.05" height="16.40" fill="#000"/>
<rect x="1800.87" y="1234.26" width="5.05" height="16.40" fill="#000"/>
<rect x="1800.87" y="691.25" width="5.05" height="16.40" fill="#000"/>
<rect x="1883.02" y="1234.26" width="5.05" height="33.30" fill="#000"/>
<rect x="1883.02" y="674.35" width="5.05" height="33.30" fill="#000"/>
<rect x="239.82" y="704.79" width="1648.25" height="6.20" fill="#000"/>
<rect x="239.82" y="1230.64" width="1648.25" height="6.40" fill="#000"/>
<rect x="239.82" y="707.65" width="5.05" height="526.61" fill="#000"/>
<rect x="1883.02" y="707.65" width="5.05" height="526.61" fill="#000"/>
<g transform="translate(195.60,608.90) scale(1,1.03)"><text font-size="69.4" text-anchor="end">0</text></g>
<g transform="translate(195.60,1240.50) scale(1,1.03)"><text font-size="69.4" text-anchor="end">0</text></g>
<g transform="translate(195.60,536.29) scale(1,1.03)"><text font-size="69.4" text-anchor="end">2</text></g>
<g transform="translate(195.60,1167.86) scale(1,1.03)"><text font-size="69.4" text-anchor="end">2</text></g>
<g transform="translate(195.00,463.67) scale(1,1.03)"><text font-size="69.4" text-anchor="end">4</text></g>
<g transform="translate(195.00,1095.23) scale(1,1.03)"><text font-size="69.4" text-anchor="end">4</text></g>
<g transform="translate(195.60,391.06) scale(1,1.03)"><text font-size="69.4" text-anchor="end">6</text></g>
<g transform="translate(195.60,1022.59) scale(1,1.03)"><text font-size="69.4" text-anchor="end">6</text></g>
<g transform="translate(195.60,318.44) scale(1,1.03)"><text font-size="69.4" text-anchor="end">8</text></g>
<g transform="translate(195.60,949.96) scale(1,1.03)"><text font-size="69.4" text-anchor="end">8</text></g>
<g transform="translate(195.60,245.83) scale(1,1.03)"><text font-size="69.4" text-anchor="end">10</text><rect x="-74.22" y="-8.48" width="13.18" height="9.88" fill="#fff"/><rect x="-51.42" y="-8.48" width="12.30" height="9.88" fill="#fff"/></g>
<g transform="translate(195.60,877.32) scale(1,1.03)"><text font-size="69.4" text-anchor="end">10</text><rect x="-74.22" y="-8.48" width="13.18" height="9.88" fill="#fff"/><rect x="-51.42" y="-8.48" width="12.30" height="9.88" fill="#fff"/></g>
<g transform="translate(195.60,173.21) scale(1,1.03)"><text font-size="69.4" text-anchor="end">12</text><rect x="-74.22" y="-8.48" width="13.18" height="9.88" fill="#fff"/><rect x="-51.42" y="-8.48" width="12.30" height="9.88" fill="#fff"/></g>
<g transform="translate(195.60,804.69) scale(1,1.03)"><text font-size="69.4" text-anchor="end">12</text><rect x="-74.22" y="-8.48" width="13.18" height="9.88" fill="#fff"/><rect x="-51.42" y="-8.48" width="12.30" height="9.88" fill="#fff"/></g>
<g transform="translate(195.00,100.60) scale(1,1.03)"><text font-size="69.4" text-anchor="end">14</text><rect x="-74.22" y="-8.48" width="13.18" height="9.88" fill="#fff"/><rect x="-51.42" y="-8.48" width="12.30" height="9.88" fill="#fff"/></g>
<g transform="translate(195.00,732.05) scale(1,1.03)"><text font-size="69.4" text-anchor="end">14</text><rect x="-74.22" y="-8.48" width="13.18" height="9.88" fill="#fff"/><rect x="-51.42" y="-8.48" width="12.30" height="9.88" fill="#fff"/></g>
<g transform="translate(243.35,1333.00) scale(1,1.02)"><text font-size="69.4" text-anchor="middle">1.50</text><rect x="-64.56" y="-8.48" width="13.18" height="9.88" fill="#fff"/><rect x="-41.77" y="-8.48" width="12.30" height="9.88" fill="#fff"/></g>
<g transform="translate(654.15,1333.00) scale(1,1.02)"><text font-size="69.4" text-anchor="middle">2.00</text></g>
<g transform="translate(1064.95,1333.00) scale(1,1.02)"><text font-size="69.4" text-anchor="middle">2.50</text></g>
<g transform="translate(1475.75,1333.00) scale(1,1.02)"><text font-size="69.4" text-anchor="middle">3.00</text></g>
<g transform="translate(1886.55,1333.00) scale(1,1.02)"><text font-size="69.4" text-anchor="middle">3.50</text></g>
<g transform="translate(1066.00,1402.90) scale(1,1.035)"><text font-size="69.4" text-anchor="middle">Energy (eV)</text></g>
<g transform="translate(86.00,659.60) rotate(-90) scale(1,1.035)"><text font-size="69.4" text-anchor="start">Intensity (arb.units)</text></g>
<g transform="translate(87.8,1213.8) rotate(-90) scale(1,1.035)"><text font-size="69.4" xml:space="preserve"><tspan font-size="78.00" font-family='"Liberation Serif", serif' font-weight="normal">ε</tspan><tspan font-size="69.40"> (10</tspan><tspan font-size="49.27" dy="-40.5">3</tspan><tspan font-size="69.40" dy="40.5"> M</tspan><tspan font-size="49.27" dy="-40.5">-1</tspan><tspan font-size="69.40" dy="40.5"> cm</tspan><tspan font-size="49.27" dy="-40.5">-1</tspan><tspan font-size="69.40" dy="40.5">)</tspan></text><rect x="78.12" y="-8.48" width="13.18" height="9.88" fill="#fff"/><rect x="100.92" y="-8.48" width="12.30" height="9.88" fill="#fff"/><rect x="274.95" y="-46.93" width="9.75" height="7.83" fill="#fff"/><rect x="291.56" y="-46.93" width="9.12" height="7.83" fill="#fff"/><rect x="438.35" y="-46.93" width="9.75" height="7.83" fill="#fff"/><rect x="454.95" y="-46.93" width="9.12" height="7.83" fill="#fff"/></g>
<rect x="1311.00" y="131.75" width="83.40" height="6.15" fill="#000"/>
<rect x="1311.00" y="199.95" width="83.40" height="5.45" fill="#f00"/>
<g transform="translate(1427.70,159.70) scale(1,1.035)"><text font-size="69.4" text-anchor="start">AIMD</text></g>
<g transform="translate(1427.50,227.10) scale(1,1.035)"><text font-size="69.4" text-anchor="start">Medoid sum</text></g>
<rect x="1311.00" y="767.95" width="30.60" height="5.35" fill="#40e0d0"/>
<rect x="1360.00" y="767.95" width="30.80" height="5.35" fill="#40e0d0"/>
<g transform="translate(1428.60,788.30) scale(1,1.035)"><text font-size="69.4" text-anchor="start">Experimental</text></g>
</svg>
</body></html>
